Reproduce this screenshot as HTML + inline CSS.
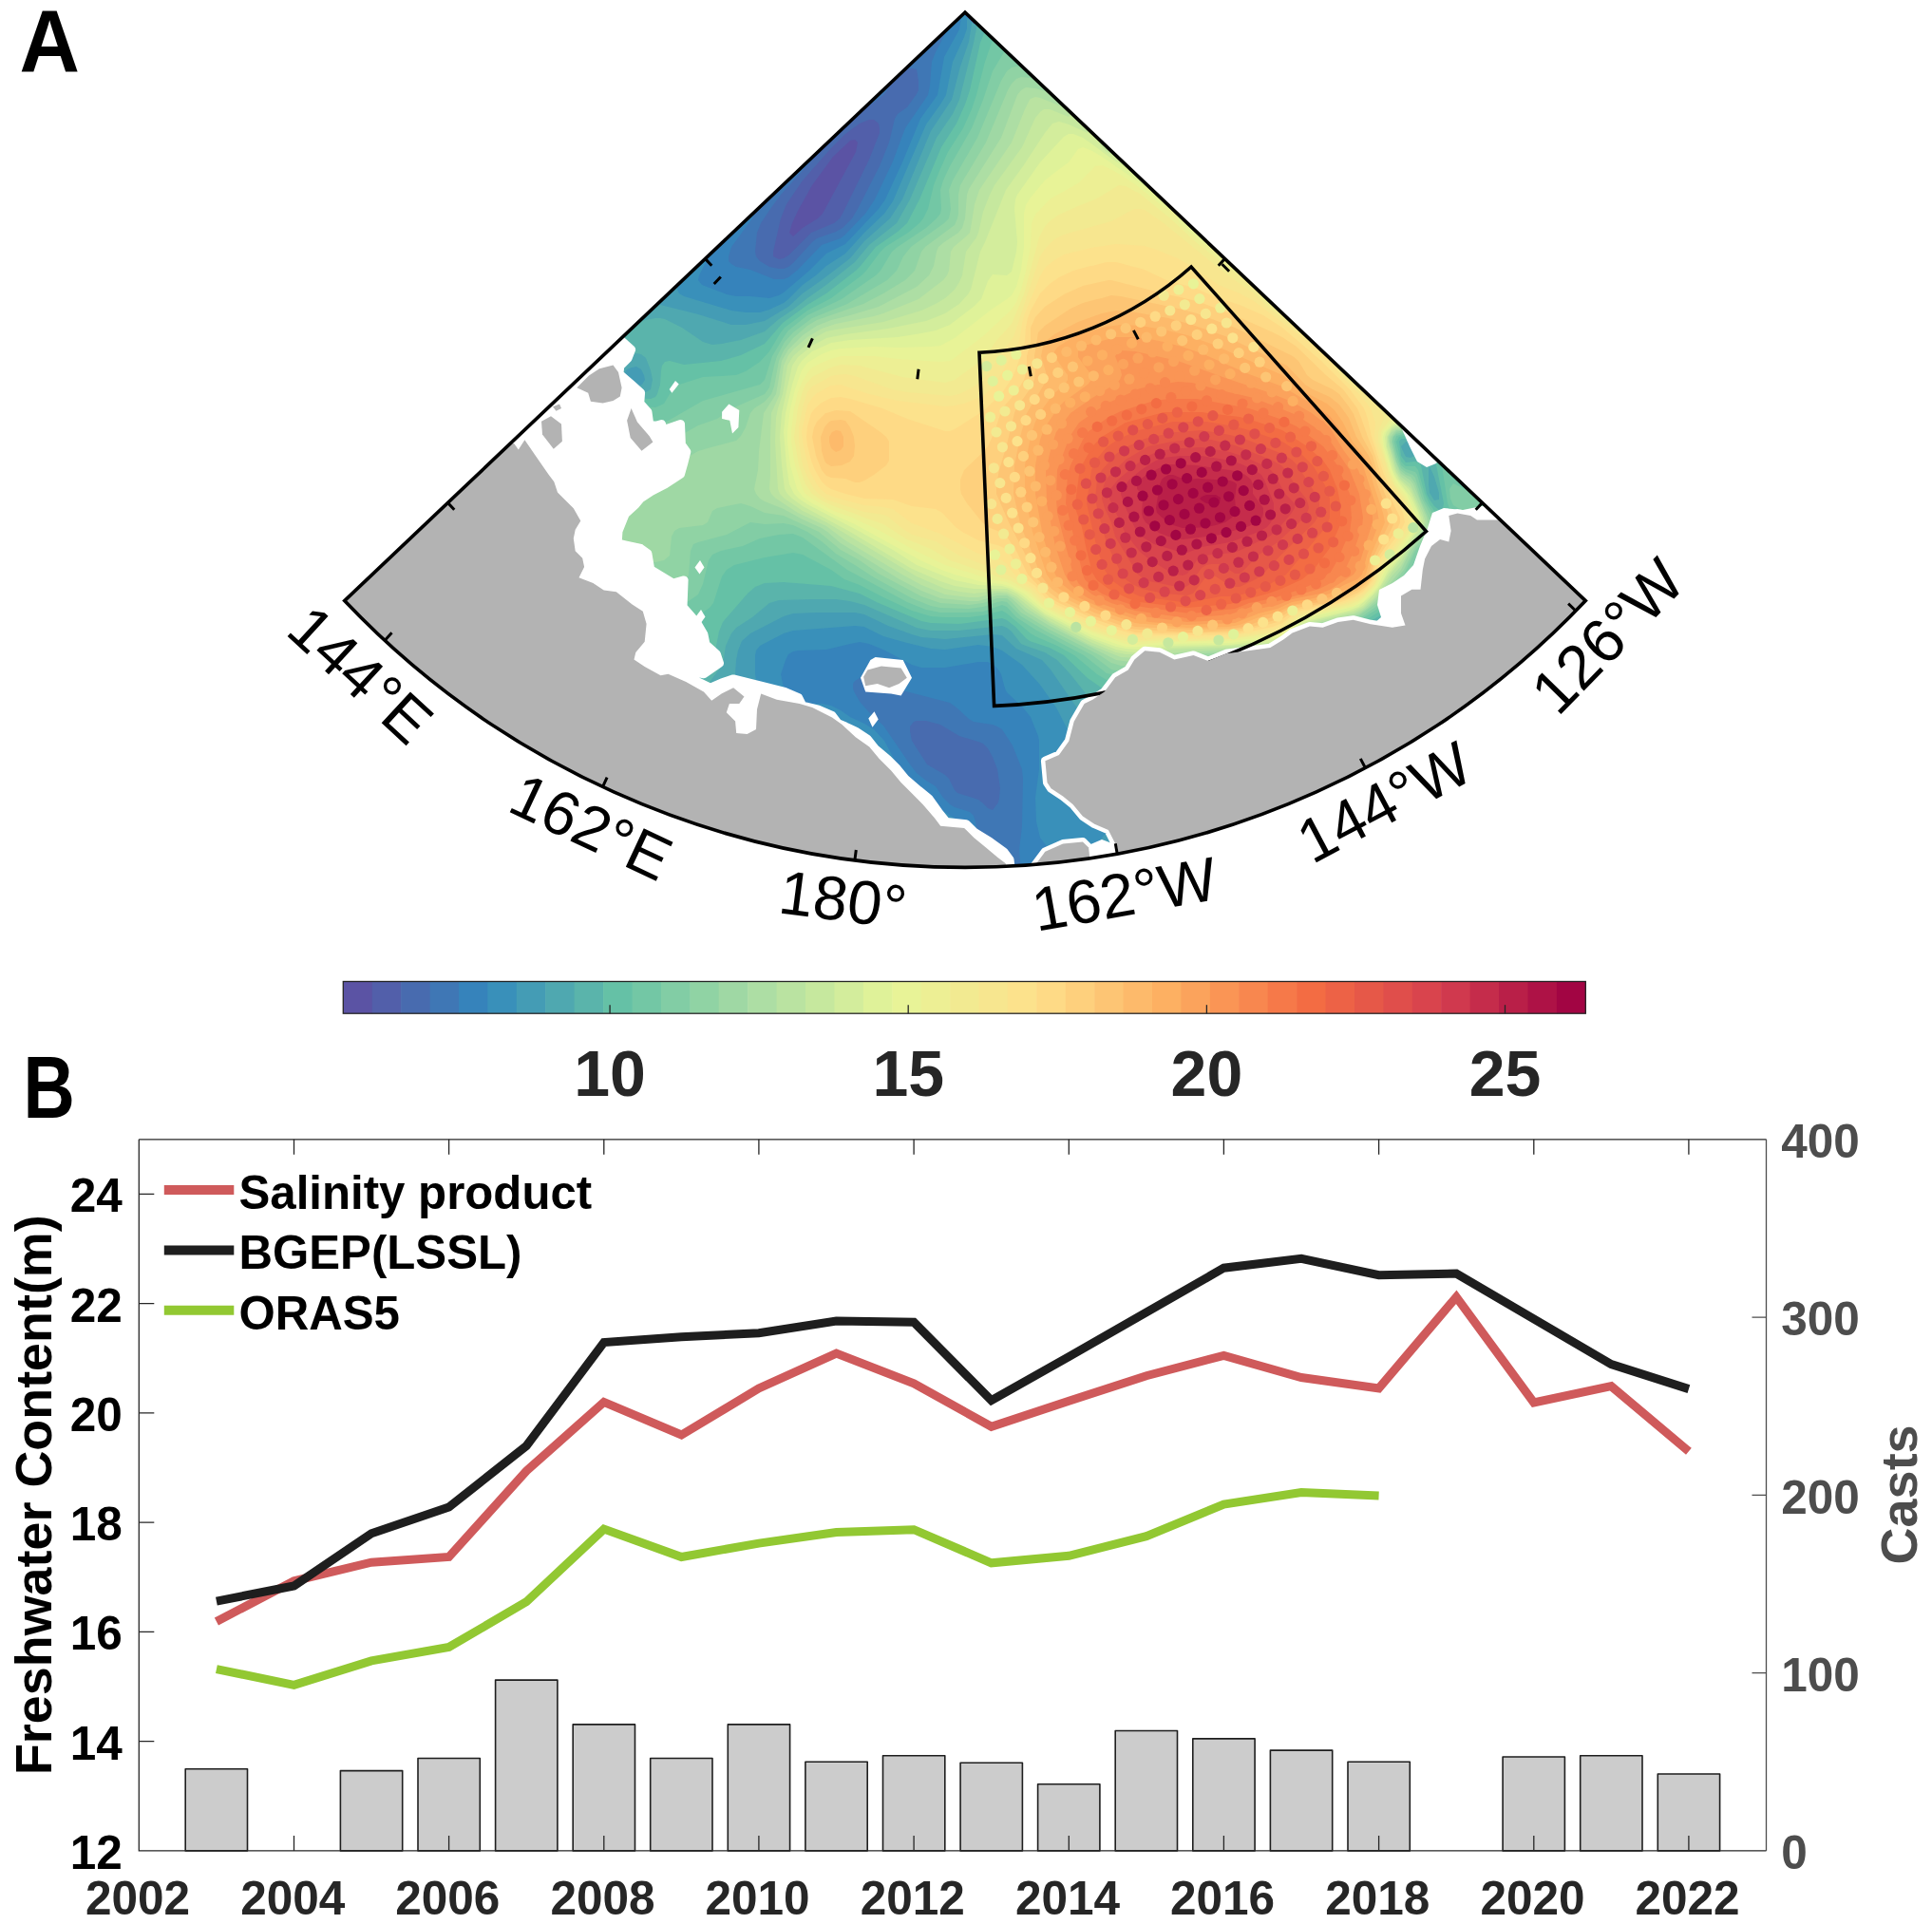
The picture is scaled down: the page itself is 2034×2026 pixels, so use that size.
<!DOCTYPE html>
<html><head><meta charset="utf-8"><title>Figure</title>
<style>
html,body{margin:0;padding:0;background:#fff;}
body{width:2034px;height:2026px;overflow:hidden;}
svg{display:block;}
text{font-family:"Liberation Sans",Arial,Helvetica,sans-serif;}
.lab{font-size:65px;fill:#000;}
.cbl{font-size:68px;font-weight:bold;fill:#262626;}
.tl{font-size:49.5px;font-weight:bold;fill:#262626;}
.tk{font-size:49.5px;font-weight:bold;fill:#000;}
.tr{font-size:49.5px;font-weight:bold;fill:#4d4d4d;}
.yl{font-size:53.9px;font-weight:bold;fill:#000;}
.yr{font-size:54px;font-weight:bold;fill:#4d4d4d;}
.lg{font-size:49.2px;font-weight:bold;fill:#000;}
.pl{font-size:92.5px;font-weight:bold;fill:#000;}
</style></head><body>
<svg xmlns="http://www.w3.org/2000/svg" width="2034" height="2026" viewBox="0 0 2034 2026">
<defs><clipPath id="wedge"><path d="M1016 13 L362.7 632.6 A900.4 900.4 0 0 0 1669.3 632.6 Z"/></clipPath></defs>
<rect width="2034" height="2026" fill="#fff"/>
<g clip-path="url(#wedge)">
<rect x="300" y="0" width="1450" height="960" fill="#5b53a4"/>
<path fill="#525faa" d="M1015 15l10 10 5 0 30 30 5 0 30 30 5 0 30 30 5 0 30 30 5 0 30 30 5 0 25 25 5 0 30 30 5 0 30 30 5 0 30 30 5 0 30 30 5 0 30 30 5 0 25 25 5 0 30 30 5 0 30 30 5 0 30 30 5 0 30 30 5 0 25 25 5 0 30 30 5 0 30 30 5 0 20 20 0 15-90 90-5 0-25 25-5 0-15 15-5 0-10 10-5 0-15 15-5 0-10 10-5 0-5 5-5 0-10 10-5 0-5 5-5 0-10 10-5 0-5 5-5 0-5 5-5 0-5 5-5 0-5 5-5 0-5 5-5 0-5 5-5 0-5 5-10 0-5 5-5 0-5 5-5 0-5 5-10 0-5 5-10 0-5 5-5 0-5 5-10 0-5 5-15 0-5 5-10 0-5 5-15 0-5 5-15 0-5 5-15 0-5 5-20 0-5 5-25 0-5 5-30 0-5 5-70 0-5 5-50 0-5-5-65 0-5-5-35 0-5-5-25 0-5-5-20 0-5-5-15 0-5-5-15 0-5-5-15 0-5-5-10 0-5-5-10 0-5-5-10 0-5-5-10 0-5-5-10 0-5-5-5 0-5-5-10 0-5-5-5 0-5-5-5 0-5-5-5 0-5-5-5 0-5-5-10 0-5-5-5 0-10-10-5 0-5-5-5 0-5-5-5 0-5-5-5 0-10-10-5 0-5-5-5 0-10-10-5 0-10-10-5 0-15-15-5 0-10-10-5 0-20-20-5 0-25-25-5 0-70-70 0-35 5 0 25-25 5 0 30-30 5 0 30-30 5 0 30-30 5 0 30-30 5 0 30-30 5 0 25-25 5 0 30-30 5 0 30-30 5 0 30-30 5 0 30-30 5 0 25-25 5 0 30-30 5 0 30-30 5 0 30-30 5 0 30-30 5 0 30-30 5 0 25-25 5 0 30-30 5 0 20-20zM893 150l-16 15-22 30-15 27-6 13-3 10 4 4 10-9 16-10 5-5 35-65 2-10-3-3-5 1z"/>
<path fill="#486baf" d="M1015 15l10 10 5 0 30 30 5 0 30 30 5 0 30 30 5 0 30 30 5 0 30 30 5 0 25 25 5 0 30 30 5 0 30 30 5 0 30 30 5 0 30 30 5 0 30 30 5 0 25 25 5 0 30 30 5 0 30 30 5 0 30 30 5 0 30 30 5 0 25 25 5 0 30 30 5 0 30 30 5 0 20 20 0 15-90 90-5 0-25 25-5 0-15 15-5 0-10 10-5 0-15 15-5 0-10 10-5 0-5 5-5 0-10 10-5 0-5 5-5 0-10 10-5 0-5 5-5 0-5 5-5 0-5 5-5 0-5 5-5 0-5 5-5 0-5 5-5 0-5 5-10 0-5 5-5 0-5 5-5 0-5 5-10 0-5 5-10 0-5 5-5 0-5 5-10 0-5 5-15 0-5 5-10 0-5 5-15 0-5 5-15 0-5 5-15 0-5 5-20 0-5 5-25 0-5 5-30 0-5 5-70 0-5 5-50 0-5-5-65 0-5-5-35 0-5-5-25 0-5-5-20 0-5-5-15 0-5-5-15 0-5-5-15 0-5-5-10 0-5-5-10 0-5-5-10 0-5-5-10 0-5-5-10 0-5-5-5 0-5-5-10 0-5-5-5 0-5-5-5 0-5-5-5 0-5-5-5 0-5-5-10 0-5-5-5 0-10-10-5 0-5-5-5 0-5-5-5 0-5-5-5 0-10-10-5 0-5-5-5 0-10-10-5 0-10-10-5 0-15-15-5 0-10-10-5 0-20-20-5 0-25-25-5 0-70-70 0-35 5 0 25-25 5 0 30-30 5 0 30-30 5 0 30-30 5 0 30-30 5 0 30-30 5 0 25-25 5 0 30-30 5 0 30-30 5 0 30-30 5 0 30-30 5 0 25-25 5 0 30-30 5 0 6-6 6-4 20-20 3 0 30-30 5 0 13-13 17-10 5-7 30-30 5 0 25-25 5 0 30-30 5 0 20-20zM905 130l-15 11-15 15-30 34-17 25-6 15-8 35 0 5 6 3 5-1 5-3 24-24 24-10 6-5 3-5 28-57 11-28 0-5-1-5-5-4-5 0-10 4z"/>
<path fill="#3f77b5" d="M1015 15l10 10 5 0 30 30 5 0 30 30 5 0 30 30 5 0 30 30 5 0 30 30 5 0 25 25 5 0 30 30 5 0 30 30 5 0 30 30 5 0 30 30 5 0 30 30 5 0 25 25 5 0 30 30 5 0 30 30 5 0 30 30 5 0 30 30 5 0 25 25 5 0 30 30 5 0 30 30 5 0 20 20 0 15-90 90-5 0-25 25-5 0-15 15-5 0-10 10-5 0-15 15-5 0-10 10-5 0-5 5-5 0-10 10-5 0-5 5-5 0-10 10-5 0-5 5-5 0-5 5-5 0-5 5-5 0-5 5-5 0-5 5-5 0-5 5-5 0-5 5-10 0-5 5-5 0-5 5-5 0-5 5-10 0-5 5-10 0-5 5-5 0-5 5-10 0-5 5-15 0-5 5-10 0-5 5-15 0-5 5-15 0-5 5-15 0-5 5-20 0-5 5-25 0-5 5-30 0-5 5-70 0-5 5-50 0-5-5-65 0-5-5-35 0-5-5-25 0-5-5-20 0-5-5-15 0-5-5-15 0-5-5-15 0-5-5-10 0-5-5-10 0-5-5-10 0-5-5-10 0-5-5-10 0-5-5-5 0-5-5-10 0-5-5-5 0-5-5-5 0-5-5-5 0-5-5-5 0-5-5-10 0-5-5-5 0-10-10-5 0-5-5-5 0-5-5-5 0-5-5-5 0-10-10-5 0-5-5-5 0-10-10-5 0-10-10-5 0-15-15-5 0-10-10-5 0-20-20-5 0-25-25-5 0-70-70 0-35 5 0 25-25 5 0 30-30 5 0 30-30 5 0 30-30 5 0 30-30 5 0 30-30 5 0 25-25 5 0 30-30 5 0 30-30 5 0 30-30 5 0 30-30 5 0 25-25 5 0 29-29 6 1 9-2 8-5 53-52 5-3 3 0 0 5-41 45-11 15-10 15-4 10-2 20 1 5 4 5 10 6 10 2 5 0 5-2 5-4 20-22 5-4 20-7 7-4 10-10 6-10 23-45 10-25 6-25 3-5 10-7 10-14 2-4 0-10-2-12-5-1-5 1-6-2 1-1 5 0 30-30 5 0 20-20zM962 760l-4 5 0 5 2 10 16 25 19 11 4 4 6 12 3 3 22 7 5 4 5 5 5 2 6-8 1-5 1-10-3-20-5-13-5-9-5-5-5-2-20-6-20-12-15-4-10 0zM935 88l1 2-2 5-4 5-13 10-7 3-2-3 1-4 11-11 5 0 9-9z"/>
<path fill="#3683bb" d="M1015 15l10 10 5 0 30 30 5 0 30 30 5 0 30 30 5 0 30 30 5 0 30 30 5 0 25 25 5 0 30 30 5 0 30 30 5 0 30 30 5 0 30 30 5 0 30 30 5 0 25 25 5 0 30 30 5 0 30 30 5 0 30 30 5 0 30 30 5 0 25 25 5 0 30 30 5 0 30 30 5 0 20 20 0 15-90 90-5 0-25 25-5 0-15 15-5 0-10 10-5 0-15 15-5 0-10 10-5 0-5 5-5 0-10 10-5 0-5 5-5 0-10 10-5 0-5 5-5 0-5 5-5 0-5 5-5 0-5 5-5 0-5 5-5 0-5 5-5 0-5 5-10 0-5 5-5 0-5 5-5 0-5 5-10 0-5 5-10 0-5 5-5 0-5 5-10 0-5 5-15 0-5 5-10 0-5 5-15 0-5 5-15 0-5 5-15 0-5 5-20 0-5 5-25 0-5 5-30 0-5 5-40 0-2-25 3-25 1-50-1-10-10-25-11-17-5-3-5-2-20-3-5-3-13-12-7-5-50-13-30-15-5-1-10 3-5 3-2 3 0 5 2 5 6 10 9 10 15 14 28 41 7 9 10 8 10 6 8 12 7 7 5 3 16 5 4 4 2 6 3 20-2 5-12 10-3 5 2 7 0 13-25 0-5-5-65 0-5-5-35 0-5-5-25 0-5-5-20 0-5-5-15 0-5-5-15 0-5-5-15 0-5-5-10 0-5-5-10 0-5-5-10 0-5-5-10 0-5-5-10 0-5-5-5 0-5-5-10 0-5-5-5 0-5-5-5 0-5-5-5 0-5-5-5 0-5-5-10 0-5-5-5 0-10-10-5 0-5-5-5 0-5-5-5 0-5-5-5 0-10-10-5 0-5-5-5 0-10-10-5 0-10-10-5 0-15-15-5 0-10-10-5 0-20-20-5 0-25-25-5 0-70-70 0-35 5 0 25-25 5 0 30-30 5 0 30-30 5 0 30-30 5 0 30-30 5 0 30-30 5 0 25-25 5 0 30-30 5 0 30-30 5 0 30-30 5 0 30-30 5 0 25-25 5 0 5-5 5-2 15-12 15-4 4 3-2 5-22 30-3 10 0 5 3 3 5 3 15 3 25 10 10 0 5-2 10-8 25-26 20-7 5-4 21-22 10-15 19-40 13-35 24-35 2-10 2-25 4-10 11-21 14-14z"/>
<path fill="#3990ba" d="M1015 15l10 10 5 0 30 30 5 0 30 30 5 0 30 30 5 0 30 30 5 0 30 30 5 0 25 25 5 0 30 30 5 0 30 30 5 0 30 30 5 0 30 30 5 0 30 30 5 0 25 25 5 0 30 30 5 0 30 30 5 0 30 30 5 0 30 30 5 0 25 25 5 0 30 30 5 0 30 30 5 0 20 20 0 15-85 85-5 5-5 0-25 25-5 0-15 15-5 0-10 10-5 0-15 15-5 0-10 10-5 0-5 5-5 0-10 10-5 0-5 5-5 0-10 10-5 0-5 5-5 0-5 5-5 0-5 5-5 0-5 5-5 0-5 5-5 0-5 5-5 0-5 5-10 0-5 5-5 0-5 5-5 0-5 5-10 0-5 5-10 0-5 5-5 0-5 5-10 0-5 5-15 0-5 5-10 0-5 5-15 0-5 5-15 0-5 5-15 0-5 5-20 0-5 5-25 0-5 5-30 0-5 5-8 0 0-20-2-5-10-13-4-17-1-25 4-30 0-30-1-5-8-20-8-10-17-16-2-4-4-15-3-5-5-5-6-3-10 0-35 6-25 0-10-3-28-15-17-7-10-2-10 2-25 6-30 1-5 1-5 3-3 6-5 15 2 10 6 17 4 3 6 1 25 0 10 2 10 5 10 7 15 7 10 6 11 12 16 30 8 12 10 10 22 18 23 15 3 5 0 5-3 2-5 2-45-12-5 3 6 10-1 5-13 15-6 10-9 10-12 0-5-5-35 0-5-5-25 0-5-5-20 0-5-5-15 0-5-5-15 0-5-5-15 0-5-5-10 0-5-5-10 0-5-5-10 0-5-5-10 0-5-5-10 0-5-5-5 0-5-5-10 0-5-5-5 0-5-5-5 0-5-5-5 0-5-5-5 0-5-5-10 0-5-5-5 0-10-10-5 0-5-5-5 0-5-5-5 0-5-5-5 0-10-10-5 0-5-5-5 0-10-10-5 0-10-10-5 0-15-15-5 0-10-10-5 0-20-20-5 0-25-25-5 0-70-70 0-35 5 0 25-25 5 0 30-30 5 0 30-30 5 0 30-30 5 0 30-30 5 0 30-30 5 0 25-25 5 0 30-30 5 0 30-30 5 0 30-30 5 0 30-30 4 0 6 3 5 1 5-2 10-7 3 0-2 5-10 20-1 5 4 5 26 10 10 2 15 0 20 2 10-3 5-3 27-23 18-18 20-10 35-37 7-10 18-39 19-46 18-25 7-40 16-29 2-13z"/>
<path fill="#449cb5" d="M1019 19l6 6 5 0 30 30 5 0 30 30 5 0 30 30 5 0 30 30 5 0 30 30 5 0 25 25 5 0 30 30 5 0 30 30 5 0 30 30 5 0 30 30 5 0 30 30 5 0 25 25 5 0 30 30 5 0 30 30 5 0 30 30 5 0 30 30 5 0 25 25 5 0 30 30 5 0 30 30 5 0 20 20 0 15-90 90-5 0-25 25-5 0-15 15-5 0-10 10-5 0-15 15-5 0-10 10-5 0-5 5-5 0-10 10-5 0-5 5-5 0-10 10-5 0-5 5-5 0-5 5-5 0-5 5-5 0-5 5-5 0-5 5-5 0-5 5-5 0-5 5-10 0-5 5-5 0-5 5-5 0-5 5-10 0-5 5-10 0-5 5-5 0-5 5-10 0-5 5-15 0-5 5-10 0-5 5-15 0-5 5-15 0-5 5-15 0-5 5-20 0-2 2-4-2-19-15-2-5 8-10-2-5-19-7-19-18-6-8-2-7 2-10 11-25 1-5-2-10-18-35-17-24-19-21-21-15-10-4-15-2-35 5-15-1-25-6-25-7-20-10-10-1-65 5-10 3-25 13-4 5-1 5 0 20 6 35 4 11 5 3 5 1 35-5 10 0 6 5 14 24 5 4 5 2-5 3-5 0-30-8-5 2-1 3 3 5 38 30 8 10-1 5-4 5-60 60-3 0-5-5-15 0-5-5-15 0-5-5-15 0-5-5-10 0-5-5-10 0-5-5-10 0-5-5-10 0-5-5-10 0-5-5-5 0-5-5-10 0-5-5-5 0-5-5-5 0-5-5-5 0-5-5-5 0-5-5-10 0-5-5-5 0-10-10-5 0-5-5-5 0-5-5-5 0-5-5-5 0-10-10-5 0-5-5-5 0-10-10-5 0-10-10-5 0-15-15-5 0-10-10-5 0-20-20-5 0-25-25-5 0-70-70 0-35 5 0 25-25 5 0 30-30 5 0 30-30 5 0 30-30 5 0 30-30 5 0 30-30 5 0 25-25 5 0 30-30 5 0 30-30 5 0 30-30 5 0 3-3 7 4 5 1 10-6 3 4 0 5 2 4 5 3 50 15 15 2 15 0 10-3 15-7 5-4 15-15 14-10 11-10 20-13 20-22 21-20 9-13 35-81 15-21 6-10 7-35 12-26 3-9 0-10z"/>
<path fill="#4fa8b0" d="M1023 23l2 2 5 0 30 30 5 0 30 30 5 0 30 30 5 0 30 30 5 0 30 30 5 0 25 25 5 0 30 30 5 0 30 30 5 0 30 30 5 0 30 30 5 0 30 30 5 0 25 25 5 0 30 30 5 0 30 30 5 0 30 30 5 0 30 30 5 0 25 25 5 0 30 30 5 0 30 30 5 0 20 20 0 15-90 90-5 0-25 25-5 0-15 15-5 0-10 10-5 0-15 15-5 0-10 10-5 0-5 5-5 0-10 10-5 0-5 5-5 0-10 10-5 0-5 5-5 0-5 5-5 0-5 5-5 0-5 5-5 0-5 5-5 0-5 5-5 0-5 5-10 0-5 5-5 0-5 5-5 0-5 5-10 0-5 5-10 0-5 5-5 0-5 5-10 0-5 5-15 0-5 5-10 0-5 5-13 0-9-10-21-30 1-10-2-5-6-1-25 1-5 0-5-3-3-7-6-25-4-10-37-50-24-35-9-10-27-12-15-14-10-1-50 5-25-2-10-3-25-9-25-12-10-2-40 0-25 1-10 3-35 18-9 8-4 10-2 10-1 15 2 20-2 5-19 12-10 8-13 20-9 10-51 70-7 0-5-5-5 0-5-5-5 0-5-5-5 0-5-5-5 0-5-5-10 0-5-5-5 0-10-10-5 0-5-5-5 0-5-5-5 0-5-5-5 0-10-10-5 0-5-5-5 0-10-10-5 0-10-10-5 0-15-15-5 0-10-10-5 0-20-20-5 0-25-25-5 0-70-70 0-35 5 0 25-25 5 0 30-30 5 0 30-30 5 0 30-30 5 0 30-30 5 0 30-30 5 0 25-25 5 0 30-30 5 0 30-30 5 0 30-30 3 0 7 5 4 5 1 11 40 10 35 11 15 0 20-4 25-15 15-14 20-14 30-23 15-18 27-24 13-20 30-72 22-33 9-35 9-26 3-19zM659 390l-2 5 1 5 2 3 3 2 7 2 6-2 3-5-1-5-3-6-5-3-5 1-5 2zM1488 675l-4 5-1 5 2 6 5 2 10 1 5-1 3-3-2-5-6-8-5-4-5 0z"/>
<path fill="#5ab4ab" d="M1030 25l30 30 5 0 30 30 5 0 30 30 5 0 30 30 5 0 30 30 5 0 25 25 5 0 30 30 5 0 30 30 5 0 30 30 5 0 30 30 5 0 30 30 5 0 25 25 5 0 30 30 5 0 30 30 5 0 4 4-3 1-11 12-2 3 2 5 25 17 5 0 5-2 11-9 29 29 5 0 25 25 5 0 30 30 5 0 30 30 5 0 20 20 0 15-90 90-5 0-25 25-5 0-15 15-5 0-10 10-5 0-15 15-5 0-10 10-5 0-5 5-5 0-10 10-5 0-5 5-5 0-10 10-5 0-5 5-5 0-5 5-5 0-5 5-5 0-5 5-5 0-5 5-5 0-5 5-5 0-5 5-10 0-5 5-5 0-5 5-5 0-5 5-10 0-5 5-10 0-5 5-5 0-5 5-10 0-5 5-15 0-5 5-10 0-5 5-7 0-12-15-12-20-2-5 0-5 3-7 5-5 31-18 13-10-4-5-55 8-10 0-4-3-5-15-11-14-8-6-12-4-10-8-38-48-14-15-13-8-20-7-5-2-10-13-5-4-5-2-45 5-30 0-15-3-55-24-15-4-15-2-25 0-35 1-10 3-18 15-17 11-5 6-6 13-3 20-11 14-5 9-5 15-3 17-7 14-65 86-5-5-5 0-5-5-5 0-5-5-5 0-5-5-5 0-5-5-10 0-5-5-5 0-10-10-5 0-5-5-5 0-5-5-5 0-5-5-5 0-10-10-5 0-5-5-5 0-10-10-5 0-10-10-5 0-15-15-5 0-10-10-5 0-20-20-5 0-25-25-5 0-70-70 0-35 5 0 25-25 5 0 30-30 5 0 30-30 5 0 30-30 5 0 30-30 5 0 30-30 5 0 25-25 5 0 30-30 5 0 30-30 5 0 28-28 4 3 4 5-1 5-15 20 5 3 15-3 5 0 5 1 18 9 22 15 10 3 10-1 20-4 25-9 15-13 15-10 15-12 20-14 30-24 15-18 29-23 14-25 28-65 17-25 7-15 15-60 4-20zM657 375l-7 2-4 3-3 5 1 5 5 15 6 5 5 1 10 2 10 0 5-3 2-10-2-10-5-13-5-4-5-1-10 2zM1480 465l-5 5 2 5 3 6 5 1 10-5 2-2-2-5-5-3-10-2zM1504 495l0 15 1 9 5 8 5-1 0-7-5-17-5-11zM1469 645l-17 10-5 5 8 13 5 5 5-3 3-5 8-15 1-5-1-5-6 0zM1485 670l-7 10-1 5 1 5 4 5 8 4 20 1 5-1 2-4-4-10-4-5-9-11-5-4-5 1z"/>
<path fill="#65c1a6" d="M1037 32l23 23 5 0 30 30 5 0 30 30 5 0 30 30 5 0 30 30 5 0 25 25 5 0 30 30 5 0 30 30 5 0 30 30 5 0 30 30 5 0 30 30 5 0 25 25 5 0 30 30 5 0 30 30 5 0 2 2-15 13-7 10-5 2-10 0-2 3 2 15 5 7 10-1 5 2 1 2 6 30 3 6 5 7 5 4 4-2 1-5-10-51 5-1 10 4 5-1 20-11 25 25 5 0 25 25 5 0 30 30 5 0 30 30 5 0 20 20 0 15-90 90-5 0-25 25-5 0-15 15-5 0-10 10-5 0-15 15-5 0-10 10-5 0-5 5-5 0-10 10-5 0-5 5-5 0-10 10-5 0-5 5-5 0-5 5-5 0-5 5-5 0-5 5-5 0-5 5-5 0-5 5-5 0-5 5-10 0-5 5-5 0-5 5-5 0-5 5-10 0-5 5-10 0-5 5-5 0-5 5-10 0-5 5-15 0-5 5-10 0-4 4-11-14-12-20-2-5 1-5 3-5 35-18 26-17 34-18 15-12 31-20-1-2-15 2-20 7-30 8-60 12-10 1-5-1-5-3-33-39-7-7-9-3-21-1-5-1-20-14-25-24-15-8-21-7-4-3-11-12-9-7-5-2-45 6-30-1-10-2-45-19-20-10-30-8-50-4-20 1-10 4-8 7-26 30-4 10-5 25-3 5-17 10-1 5 3 10 0 5-3 10-2 15-4 12-5 8-9 10-6 10-9 10-36 50-5 0-5-5-5 0-5-5-5 0-5-5-5 0-5-5-10 0-5-5-5 0-10-10-5 0-5-5-5 0-5-5-5 0-5-5-5 0-10-10-5 0-5-5-5 0-10-10-5 0-10-10-5 0-15-15-5 0-10-10-5 0-20-20-5 0-25-25-5 0-70-70 0-35 5 0 25-25 5 0 30-30 5 0 30-30 5 0 30-30 5 0 30-30 5 0 30-30 5 0 25-25 5 0 4-4 46 11 5 3 6 10 7 5 17 4 20 1 5-2 2-3 3-10 1-15 1-5 3-4 5-1 15 4 39-4 21-6 25-12 19-22 26-19 20-12 31-24 5-5 16-20 23-16 10-9 13-25 23-55 16-25 9-20 5-15 11-50 4-10zM1471 635l-16 12-14 8-6 5-3 5 8 5 6 5 4 22 5 6 5-2 5-6 5-2 10 10 10 3 25 3 5 0 6-4 2-5-1-5-8-15-14-16-5-4-10-3-2-2 3-15-1-5-5-3-10 1z"/>
<path fill="#73c7a5" d="M1045 44l2-2 13 13 5 0 30 30 5 0 30 30 5 0 30 30 5 0 30 30 5 0 25 25 5 0 30 30 5 0 30 30 5 0 30 30 5 0 30 30 5 0 30 30 5 0 25 25 5 0 30 30 5 0 30 30 5 0-25 23-12 2-3 5 5 21 5 5 10 0 3 4 7 25 5 11 5 7 13 12 4 10 0 5-2 10-3 5-7 4-10 2-5 4-10 20-35 32-25 16-20 7-3 5 3 10 0 5-5 4-20 12-35 31-10 4-65 12-5 0-5-3-18-20-6-5-16-2-50-1-10-1-10-6-24-20-18-10-23-10-5-3-25-21-5-3-20 5-15 2-25 0-15-1-20-6-30-14-25-13-16-6-14-10-30-16-10-2-30 5-32 8-8 5-5 7-9 28-4 5-21 15-3 5 3 5 11 10 2 5-2 5-2 1-5 0-15-9-5-1-5 1-12 8-73 37-20 11-24 17-21 18-24 17-1 0-10-10-5 0-10-10-5 0-15-15-5 0-10-10-5 0-20-20-5 0-25-25-5 0-70-70 0-35 5 0 25-25 5 0 30-30 5 0 30-30 5 0 30-30 5 0 30-30 5 0 30-30 5 0 22-22 13 2 10 3 10 2 10 3 9 2 11 14 5 3 35 6 15 1 5-2 4-2 9-15 7-5 25-8 35-2 10-4 15-10 10-11 12-20 4-5 24-18 25-13 32-24 5-5 15-20 5-5 24-15 12-10 4-5 5-10 6-25 6-15 9-20 16-25 9-20 5-15 9-35 7-20zM1550 474l3-1 22 22 5 0 25 25 5 0 30 30 5 0 30 30 5 0 20 20 0 15-58 58-77-78-10-8-5-1-5 2-10 11-5 1 6-15 0-10-3-10-3-19-6-16-6-40 2-4 15-3 14-8z"/>
<path fill="#82cda5" d="M1057 52l3 3 5 0 30 30 5 0 30 30 5 0 30 30 5 0 30 30 5 0 25 25 5 0 30 30 5 0 30 30 5 0 30 30 5 0 30 30 5 0 30 30 5 0 25 25 5 0 30 30 5 0 30 30 3 0-13 13-10 7-15 4-2 6 2 10 5 15 5 4 10 3 2 3 8 27 17 28 0 10-3 5-14 6-5 4-5 8-7 17-21 25-10 10-22 14-22 6-10 5-8 9-5 3-13 8-17 12-10 4-45 9-10-1-13-4-22-1-20 4-25 3-35 0-10-2-24-19-51-27-20-13-10-11-5-2-20 7-20 1-25 0-15-3-20-8-63-34-47-34-10-4-15 1-20 4-18 8-23 5-9 4-4 6-6 25-5 11-10 7-15 7-20 5-10 0-5 2-90 88-30 26-28 21-7-7-5 0-10-10-5 0-15-15-5 0-10-10-5 0-20-20-5 0-25-25-5 0-70-70 0-35 5 0 25-25 5 0 30-30 5 0 30-30 5 0 12-12 38-1 30-7 106-35 14-7 35 4 10 0 10-2 40-23 60-17 5-5 8-25 12-20 5-7 20-16 36-17 36-25 5-5 12-20 6-5 30-20 11-10 4-5 1-5-1-20 3-10 7-15 23-40 12-30 10-30 12-20zM1555 479l3-1 17 17 5 0 25 25 5 0 30 30 5 0 30 30 5 0 20 20 0 15-51 51-93-91-2-10-7-10-2-5-1-10-14-8-3-7-1-10 4-6 20 10 4-4-2-5-7-8-10 0-5-1-5-6 1-5 19-6 7-4z"/>
<path fill="#90d3a4" d="M1070 70l11 1 14 14 5 0 30 30 5 0 30 30 5 0 30 30 5 0 25 25 5 0 30 30 5 0 30 30 5 0 30 30 5 0 30 30 5 0 30 30 5 0 25 25 5 0 30 30 5 0 30 30 1 0-11 11-10 7-15 4-3 3-1 5 4 16 5 12 5 4 7 3 3 3 7 22 13 25 1 5-1 5-15 14-5 6-12 25-20 25-11 10-17 12-32 8-43 28-10 3-90 5-25 7-15 2-20 2-20-1-5-1-20-15-50-26-25-15-15-15-5-1-5 1-15 5-15 2-30-1-10-2-20-8-40-22-20-13-20-12-15-13-15-10-15-7-10-2-20 1-15-2-25 13-30 8-5 2-3 7-2 25-2 5-3 4-5 3-20 2-20 6-4 5-4 10-3 5-80 80-34 31-10 7-15 12-4 1-1-1-5 0-10-10-5 0-15-15-5 0-10-10-5 0-20-20-5 0-25-25-5 0-70-70 0-35 5 0 25-25 5 0 30-30 5 0 30-30 5 0 7-7 43 0 25-5 25-6 66-22 14-3 5 3 5 14 5 1 10-7 45-4 10-4 30-17 20-7 16-11 34-15 5-7 5-23 3-10 8-15 9-10 20-15 37-15 42-25 10-10 7-15 8-10 35-25 5-5 2-10-2-20 4-10 26-45 25-60 6-10 5-4 5-1z"/>
<path fill="#9fd8a4" d="M1088 78l7 7 5 0 30 30 5 0 30 30 5 0 30 30 5 0 25 25 5 0 30 30 5 0 30 30 5 0 30 30 5 0 30 30 5 0 30 30 5 0 25 25 5 0 30 30 5 0 30 30-10 9-10 7-15 4-4 5-1 5 5 21 4 9 6 5 5 2 5 7 5 16 11 25 0 5-2 5-14 16-12 24-20 25-9 10-19 14-39 11-10 5-26 18-10 4-95 5-30 7-20 3-20-1-10-3-12-8-53-27-25-15-5-3-10-11-5-4-10 0-15 5-15 2-30-2-20-7-45-24-20-14-20-11-23-19-37-17-20-3-15-7-10-3-25 5-5 3-5 12-5 3-25 3-5 3-3 6-2 20-6 5-9 2-10-1-20-10-5-1-30 10-10 2-95 28-10 2-95 28-10 2-25 8-5 0-35-35 0-35 5 0 25-25 5 0 30-30 5 0 27-27 13-3 45-1 30-3 10 0 15 3 20 1 15 4 20 1 10 3 15 2 5 2 10 7 5-2 25-12 60-35 10-3 30-8 5-5 5-9 5-15 4-5 11-7 7-8 3-8 5-27 5-11 10-13 15-13 10-6 49-17 21-11 23-14 10-10 7-20 4-5 31-23 3-7 1-5 0-20 2-10 27-45 23-55 4-7 5-5 5-2 10 1 2-2z"/>
<path fill="#addea4" d="M1100 85l30 30 5 0 30 30 5 0 30 30 5 0 25 25 5 0 30 30 5 0 30 30 5 0 30 30 5 0 30 30 5 0 30 30 5 0 25 25 5 0 30 30 5 0 29 29-14 13-10 5-10 1-2 2-4 5-1 5 6 20 4 10 2 4 10 7 3 4 14 35 1 5 0 5-18 25-10 20-24 30-11 10-10 7-5 2-27 6-14 5-9 5-20 15-10 4-100 5-35 7-20 1-15-2-70-36-25-15-15-14-5-3-10 0-20 6-10 0-30-3-20-8-23-12-42-26-20-12-14-12-6-4-20-9-20-11-20-8-5-3-4-5-2-5 4-20 1-20 5-40 13-20 6-35 7-12 15-15 15-10 15-6 20-5 30-9 40-21 13-12 5-10 3-15 2-5 6-5 15-10 4-5 3-10 2-25 2-6 34-54 17-45 4-5 5-3 10 1 10 3 4-1-6-10z"/>
<path fill="#bae3a1" d="M1085 104l5-2 5 1 25 10 3-3 0-2 7 7 5 0 30 30 5 0 30 30 5 0 25 25 5 0 30 30 5 0 30 30 5 0 30 30 5 0 30 30 5 0 30 30 5 0 25 25 5 0 30 30 5 0 28 28-13 12-10 5-10 2-5 3-3 5 1 10 7 23 5 9 10 8 13 30 3 10-4 10-12 17-10 19-10 11-12 18-8 8-10 9-10 5-34 8-14 5-22 17-10 4-105 6-40 6-20-1-35-14-40-22-25-16-11-10-9-5-10-1-20 5-10 0-25-3-25-10-20-11-60-36-20-15-30-14-23-15-5-5-2-5 1-15 0-40 1-25 9-20 4-30 5-11 5-6 15-13 15-9 15-5 40-8 10-3 37-15 26-20 4-5 2-5 2-20 3-5 12-10 5-5 1-5 4-25 5-15 34-50 14-35 5-10z"/>
<path fill="#c6e89e" d="M1100 115l5 0 20 8 3-3 0-7 2 2 5 0 30 30 5 0 30 30 5 0 25 25 5 0 30 30 5 0 30 30 5 0 30 30 5 0 30 30 5 0 30 30 5 0 25 25 5 0 30 30 5 0 27 27-7 8-10 7-15 3-5 3-4 7 0 5 9 32 5 8 10 9 13 31 1 5-1 5-3 5-11 15-9 16-10 12-11 17-8 10-11 10-10 5-45 11-7 4-13 11-10 6-5 1-50 4-60 2-35 5-15 0-10-2-25-10-45-23-20-14-15-12-10-5-10-1-25 3-15-2-15-3-30-13-95-57-25-12-19-13-5-5-2-5-3-50 1-25 2-10 5-15 5-30 6-10 20-18 15-8 10-2 50-8 40-12 15-7 10-6 10-9 5-8 3-7 4-25 11-15 2-5 5-22 7-18 5-10 29-40 14-31 5-6 4-3z"/>
<path fill="#d3ed9c" d="M1135 115l30 30 5 0 30 30 5 0 25 25 5 0 30 30 5 0 30 30 5 0 30 30 5 0 30 30 5 0 30 30 5 0 25 25 5 0 30 30 5 0 27 27-9 8-8 5-15 3-5 3-5 9 0 10 8 25 5 10 10 10 3 5 10 25 1 5-2 5-22 35-12 15-9 15-17 18-10 5-48 12-7 4-15 13-10 4-50 4-65 2-35 5-10-1-10-2-30-12-45-24-30-23-10-5-10 0-25 0-20-3-15-5-30-13-65-39-50-27-11-8-5-5-3-5-3-25-2-30 2-25 11-50 6-9 15-12 15-8 20-4 45-6 40-8 20-8 15-10 9-10 3-5 10-40 5-10 22-55 18-25 23-35 8-10 7-2 10 3 20 9 0-5-10-13-3-7zM1157 150l3 5 5 5 10 5 1-5-6-10-5-3-5 0z"/>
<path fill="#dff299" d="M1138 118l24 24-7-4-16-18zM1120 144l5-3 5 0 10 4 10 7 20 15 15 9 2-1-9-20-8-10 30 30 5 0 25 25 5 0 30 30 5 0 30 30 5 0 30 30 5 0 30 30 5 0 30 30 5 0 25 25 5 0 30 30 5 0 26 26-10 9-6 4-15 2-5 3-5 6-2 5 1 10 7 25 5 10 14 18 8 17 2 10-5 10-19 30-9 10-8 15-9 11-15 13-10 4-45 11-5 2-15 13-10 4-50 6-65 1-30 4-15-1-10-2-25-9-40-21-10-5-25-20-10-6-10-3-25-1-25-5-40-16-25-16-40-22-50-26-9-6-5-5-5-10-3-20-3-35 2-20 7-30 6-19 4-6 11-10 20-9 20-3 50-3 25-4 15-3 15-6 25-19 8-8 7-19 5-7 15 1 5-4 5-21 1-10-3-35 1-10 2-5 24-34 24-26z"/>
<path fill="#e8f397" d="M1140 155l10 4 10 6 45 31 5 0 0-1-21-25-6-12 17 17 5 0 25 25 5 0 30 30 5 0 30 30 5 0 30 30 5 0 30 30 5 0 30 30 5 0 25 25 5 0 30 30 5 0 25 25-10 9-5 3-15 3-5 2-7 8-2 5 1 10 10 30 6 10 8 10 11 25 1 5-5 10-18 27-10 11-10 20-15 16-10 5-50 12-7 4-13 12-10 4-50 6-65 1-30 3-15 0-10-3-25-9-45-23-10-7-17-14-13-7-10-3-20-2-30-8-14-5-22-10-69-38-20-9-25-13-10-7-6-8-7-25-3-25 0-10 3-25 5-20 7-20 6-8 15-9 10-4 10-2 35-2 25 1 35-1 10-1 15-8 40-31 15-10 5-4 5-9 5-18 3-24 0-35 2-9 5-8 15-18 10-8 15-11 10-14 5-2zM1246 230l1 5 3 3 10 8 5 3 1-4-7-10-4-4-5-2z"/>
<path fill="#edef94" d="M1189 164l11 11 5 0 25 25 5 0 30 30 5 0 30 30 5 0 30 30 5 0 30 30 5 0 30 30 5 0 25 25 5 0 30 30 5 0 23 23-6 7-7 5-15 2-5 2-9 11-1 5 1 10 7 25 7 14 10 13 5 10 6 13 0 5-5 10-16 23-10 12-10 20-8 10-12 10-5 3-55 13-15 13-10 5-50 6-70 1-30 3-10-1-35-12-40-20-11-6-19-17-20-10-17-3-48-15-35-17-35-20-30-14-15-5-10-5-15-9-7-5-3-5-8-25-4-25 0-10 3-25 4-17 5-12 7-11 3-3 10-5 10-4 10-3 35 0 25 3 45 3 10-1 5-3 30-23 30-28 5-8 5-13 5-20 5-25 1-25 4-9 15-16 30-17 18-18 7-1 13 6 22 14 30 24 5 3 5 0-10-16-35-40zM1237 225l5 10 5 5 18 15 15 10 2-5-3-5-19-24-5-4-5-2-10-1z"/>
<path fill="#f2ea91" d="M1205 175l25 25 5 0 30 30 5 0 30 30 5 0 30 30 5 0 30 30 5 0 30 30 5 0 25 25 5 0 30 30 5 0 21 21-3 4-8 6-15 1-5 3-8 10-3 5-1 10 9 30 6 15 11 15 6 12 3 8 1 5-5 10-15 20-12 15-9 20-13 14-5 4-10 4-50 12-5 3-10 9-10 5-50 7-40 2-30-1-30 2-15-2-30-10-45-23-9-6-11-11-20-12-65-22-20-12-25-10-25-16-20-7-15-6-15-5-15-7-10-7-7-10-7-20-5-30 4-30 5-18 3-7 7-8 20-10 10-3 20 1 45 12 45 6 10-3 25-18 10-10 8-12 17-19 13-31 16-60 5-10 6-7 10-7 20-9 20-8 23-14 7 1 15 8 32 26 28 26 40 31 10 6 2-3-4-5-13-15-9-15-12-15-14-15-5-3-10-2-5-4-12-16-24-25zM1328 305l-1 5 3 5 5 5 15 11 5 0-15-22-5-4-5-1zM1417 390l3 4 0-5z"/>
<path fill="#f7e68f" d="M1195 220l5 0 5 1 20 14 65 53 30 21 15 15 30 22 5-1-3-5-23-30-4-8-5-5-5-2-30-30-1-6 6 1 30 30 5 0 30 30 5 0 30 30 5 0 25 25 5 0 30 30 2 0-4 10-3 3-5 1-16-14-9-5-15-15-5-2-5 2 1 5 4 5 32 30 8 10 2 5-6 15 0 10 13 40 15 25 6 13 1 7-2 5-18 25-11 13-6 17-2 5-12 12-5 4-10 4-25 7-25 5-6 3-11 10-8 4-50 8-40 1-35-1-20 2-15-2-25-7-15-7-40-20-5-3-15-15-30-18-45-17-25-15-25-7-12-8-13-11-5-2-20-3-40-13-8-6-5-5-7-13-5-12-4-25 0-15 5-25 4-12 5-6 20-11 5-1 10-1 10 2 39 14 16 3 45 4 10-2 10-5 10-6 10-10 15-24 12-15 28-85 5-8 10-10 10-5 50-14 24-13z"/>
<path fill="#fce28c" d="M1155 260l20-3 30 2 10 3 25 10 15 9 28 19 22 9 15 8 65 49 3-1-10-15-5-10-24-30-3-5 2-7 22 22 5 0 30 30 5 0 25 25 5 0 16 16-6 5-5 2-5 0-5-3-15-14-5-2-12 1 1 5 7 10 20 20 12 15 5 15-1 15 1 5 13 40 20 35 2 10-2 5-18 25-8 10-3 5-4 15-3 5-10 10-10 6-10 4-20 5-27 5-8 5-10 9-10 3-45 8-40 1-35-1-20 1-15-2-25-7-15-7-41-20-6-5-9-10-15-10-6-5-8-11-5-4-25-7-40-21-30-11-20-15-10-2-20-2-30-8-10-4-6-5-4-5-8-15-6-25-2-15 6-28 5-8 5-5 15-8 10-1 30 10 30 7 50 6 10-1 10-2 20-8 8-7 4-5 24-40 3-10 2-15 3-10 16-39 5-9 10-8 10-6 33-8z"/>
<path fill="#feda86" d="M1150 280l15-4 10 0 30 8 23 11 32 9 20 9 25 8 25 11 20 13 41 35 30 30 15 20 4 11 4 19 13 40 20 40 2 10-4 8-23 32-7 22-10 11-10 6-16 6-44 9-15 12-10 4-40 8-45 1-60-1-30-8-25-10-35-17-5-4-10-12-10-7-5-5-10-19-5-7-5-3-5-2-20-5-17-9-7-5-14-15-7-4-25-3-20-7-30-1-20-5-15-5-5-3-5-5-7-12-4-10-4-16-1-9 1-11 4-14 4-5 7-6 10-5 10-1 10 2 34 10 26 11 40 13 5 0 5-2 30-19 19-18 11-16 5-11 9-28 1-15 2-10 3-8 10-18 10-10 10-7 15-7 18-5zM1357 307l13 13 5 0 30 30 5 0 25 25 5 0 9 9-4 5-5 3-5-2-15-13-10-3-10-6-17-18-8-20-17-20z"/>
<path fill="#fed07d" d="M1170 295l55 14 35 8 40 15 40 18 10 5 15 10 31 30 18 15 15 20 4 10 7 20 8 20 7 25 19 40 0 5-2 5-23 35-5 20-4 6-10 8-13 6-15 5-37 7-20 13-35 9-15 2-45 1-55-1-40-13-40-18-10-6-23-24-12-25-10-15-5-4-15-6-6-5-16-20-6-10-1-5 0-10 4-10 20-19 5-6 7-15 8-25 15-17 8-13 3-10 0-15 4-15 0-15 5-11 10-11 20-13 20-9 27-6zM1394 339l11 11 5 0 4 4-5 6-4 1-5-2-5-4-4-5-2-5 2-5zM870 435l10-3 15 1 32 22 6 5 3 5 0 5 0 15-3 5-13 10-10 6-5 2-5 0-10-4-15-1-5-2-5-6-6-15-4-20 2-10 3-6 9-9z"/>
<path fill="#fdc574" d="M1160 314l10-3 10 1 61 13 19 5 40 15 61 30 6 5 9 15 6 5 21 10 7 5 10 13 5 8 9 24 11 20 7 25 16 40 0 5-2 5-19 35-5 20-4 5-8 6-19 9-16 5-30 5-5 2-15 10-26 8-24 4-40 2-55-3-10-1-40-14-37-18-8-6-17-19-8-20-18-35-13-30 0-10 3-15 8-27 8-33 2-5 14-20 5-10 1-10-1-15 4-25 7-7 27-18 13-6 15-4zM875 443l10-1 5 1 5 7 4 10 1 10-1 10-4 6-9 4-11 1-5-3-2-3-3-10-1-15 4-10 4-5z"/>
<path fill="#fdba6b" d="M1165 329l10-2 15 1 40 7 25 7 35 12 65 31 19 20 8 5 18 8 10 8 10 14 8 20 13 20 4 10 5 20 11 30 2 10-18 38-4 17-2 5-9 8-26 12-14 4-25 3-7 3-13 8-36 12-14 2-40 1-60-3-43-15-31-15-14-10-12-15-7-20-13-30-8-35 1-30 6-30 7-25 21-35 0-5-6-20 2-10 2-5 10-8 25-13 25-9zM880 453l5 1 3 6 0 10-3 4-5 2-5-4-2-7 0-5 3-5z"/>
<path fill="#fdb062" d="M1165 344l15-2 20 1 25 4 25 6 25 9 75 33 20 16 27 14 8 7 9 13 10 20 11 14 5 9 6 22 10 30 2 10-15 35-5 20-2 5-6 4-30 15-40 8-15 8-15 3-25 10-12 2-43 1-55-5-40-14-26-12-19-14-8-11-15-45-8-40 0-30 6-30 5-16 8-14 11-15 12-10 3-5 0-5-14-20 0-5 4-5 16-10 10-4 20-6z"/>
<path fill="#fba35c" d="M1175 355l15 0 15 1 20 4 19 5 21 7 50 22 35 13 39 23 11 8 9 12 11 20 15 20 15 47 2 13-13 35-5 20-5 5-14 6-15 9-17 5-23 4-15 7-20 5-25 10-50 2-40-3-15-3-36-12-22-10-19-15-7-10-13-40-8-45 0-30 5-27 5-13 15-22 5-5 25-18 4-5 0-5-14-19 0-6 5-5 5-2 30-8z"/>
<path fill="#fa9555" d="M1180 369l15 1 45 10 50 18 45 15 25 10 21 12 19 15 15 25 15 20 10 27 5 22 0 6-15 47-5 8-25 16-10 4-30 6-15 6-20 4-25 11-50 3-55-7-35-12-14-6-8-5-11-10-6-10-10-30-9-45-1-35 6-25 5-15 15-20 23-16 23-14 6-5 2-5-1-5-6-15 4-5z"/>
<path fill="#f8874f" d="M1220 405l20-3 15 1 30 8 35 8 45 18 25 17 10 10 21 31 10 25 4 25-1 10-9 26-9 19-3 5-14 10-10 5-44 13-25 5-25 9-45 4-55-8-25-8-20-9-14-11-6-10-8-30-9-35-1-15 1-30 13-35 10-15 29-20 35-16 19-4z"/>
<path fill="#f67949" d="M1235 420l25 0 55 10 35 12 15 7 28 21 15 20 13 30 2 25-2 15-13 30-8 14-7 6-22 10-31 10-25 5-15 6-45 5-10-1-50-7-24-8-11-5-10-7-8-8-2-5-18-75 2-30 3-10 13-27 5-8 21-15 14-7 35-11 16-2z"/>
<path fill="#f36c43" d="M1225 434l40 0 40 5 15 4 30 10 26 17 17 15 7 10 8 20 3 15 0 15-1 10-10 22-17 23-12 10-22 10-14 5-40 11-45 4-50-6-13-4-20-10-12-9-5-8-7-28-4-20-7-20 0-5 4-30 3-10 11-20 10-10 25-15 37-10z"/>
<path fill="#ed6246" d="M1235 444l35 0 30 5 15 4 35 12 20 13 12 12 13 21 5 14 0 20-4 10-42 50-17 10-26 10-11 3-15 0-30 6-10 0-45-6-17-8-14-10-6-10-8-22-11-48 5-35 6-12 10-12 10-7 20-10 36-9z"/>
<path fill="#e65848" d="M1240 455l25-2 30 5 15 4 40 16 10 6 6 6 22 35 1 5 0 10-2 5-3 5-36 35-19 20-7 5-17 8-5 0-5-1-15-10-5-1-5 1-14 18-6 2-24-2-24-5-10-5-7-5-4-5-16-33-10-37-2-10 2-20 5-10 15-17 10-7 20-9 32-7z"/>
<path fill="#e04e4b" d="M1235 465l25-3 15 1 25 6 40 16 9 5 5 5 9 15 12 15 2 5 1 5-2 5-6 8-25 23-21 14-14 15-5 4-5 0-10-7-5-3-10 0-5 1-5 3-12 17-3 2-5 2-35-7-5-2-7-5-24-40-4-15-7-15-3-10 1-10 3-10 21-21 24-14 25-5z"/>
<path fill="#d9444d" d="M1225 474l20-2 20-1 30 5 15 5 20 9 8 5 4 5 11 20 10 10 0 5-3 5-17 20-7 5-36 17-25 2-10 2-5 4-10 14-5 2-7-1-10-5-18-11-10-8-15-19-17-37 1-10 8-10 28-23 10-5 7-2z"/>
<path fill="#d0394e" d="M1245 480l20 0 30 5 10 3 16 7 7 5 3 5 10 25 0 5-1 10-2 5-4 5-9 5-30 11-30 5-15 6-5 0-30-9-13-8-7-9-3-6-9-20-3-10 1-5 8-10 11-9 10-7 7-4 8-3 18-2z"/>
<path fill="#c52c4b" d="M1230 489l10 0 19 1 36 5 10 2 6 3 6 5 2 5 0 10 11 15 0 5-1 5-6 5-8 4-30 9-40 5-15-3-10-4-14-11-3-5-1-5 1-15-1-5-5-5 0-5 3-5 7-5 13-7 8-3z"/>
<path fill="#b91f48" d="M1235 500l10 4 5 1 10-1 35 2 5 2 2 2-2 15 1 10-1 5-3 5-7 5-10 3-10 2-15 1-10 0-10-3-6-3-11-10-1-5 4-25 2-5 2-2 5-3 4 0z"/>
<path fill="#ae1246" d="M1265 523l5-2 10 0 5 3-1 6-4 2-10-2-5-3-2-2z"/>
<circle cx="1047.5" cy="584.2" r="5.6" fill="#e8f397"/>
<circle cx="1053.9" cy="600" r="5.6" fill="#dff299"/>
<circle cx="1043.7" cy="530.6" r="5.6" fill="#f7e68f"/>
<circle cx="1050.1" cy="546.4" r="5.6" fill="#f2ea91"/>
<circle cx="1056.6" cy="562.2" r="5.6" fill="#f2ea91"/>
<circle cx="1063" cy="578" r="5.6" fill="#edef94"/>
<circle cx="1069.5" cy="593.8" r="5.6" fill="#edef94"/>
<circle cx="1075.9" cy="609.6" r="5.6" fill="#e8f397"/>
<circle cx="1046.3" cy="492.8" r="5.6" fill="#f7e68f"/>
<circle cx="1052.8" cy="508.6" r="5.6" fill="#f7e68f"/>
<circle cx="1059.2" cy="524.4" r="5.6" fill="#fce28c"/>
<circle cx="1065.7" cy="540.2" r="5.6" fill="#fce28c"/>
<circle cx="1072.1" cy="556" r="5.6" fill="#fce28c"/>
<circle cx="1078.6" cy="571.8" r="5.6" fill="#feda86"/>
<circle cx="1085" cy="587.6" r="5.6" fill="#fce28c"/>
<circle cx="1091.5" cy="603.4" r="5.6" fill="#fce28c"/>
<circle cx="1097.9" cy="619.2" r="5.6" fill="#f7e68f"/>
<circle cx="1104.4" cy="635" r="5.6" fill="#e8f397"/>
<circle cx="1042.5" cy="439.2" r="5.6" fill="#edef94"/>
<circle cx="1049" cy="455" r="5.6" fill="#f2ea91"/>
<circle cx="1055.4" cy="470.8" r="5.6" fill="#f7e68f"/>
<circle cx="1061.9" cy="486.6" r="5.6" fill="#fce28c"/>
<circle cx="1068.3" cy="502.4" r="5.6" fill="#feda86"/>
<circle cx="1074.8" cy="518.2" r="5.6" fill="#fed07d"/>
<circle cx="1081.2" cy="534" r="5.6" fill="#fed07d"/>
<circle cx="1087.7" cy="549.8" r="5.6" fill="#fdc574"/>
<circle cx="1094.1" cy="565.6" r="5.6" fill="#fdba6b"/>
<circle cx="1100.6" cy="581.4" r="5.6" fill="#fdba6b"/>
<circle cx="1107" cy="597.2" r="5.6" fill="#fdba6b"/>
<circle cx="1113.5" cy="613" r="5.6" fill="#fdba6b"/>
<circle cx="1119.9" cy="628.8" r="5.6" fill="#feda86"/>
<circle cx="1126.4" cy="644.6" r="5.6" fill="#e8f397"/>
<circle cx="1132.8" cy="660.4" r="5.6" fill="#bae3a1"/>
<circle cx="1038.7" cy="385.6" r="5.6" fill="#d3ed9c"/>
<circle cx="1045.2" cy="401.4" r="5.6" fill="#dff299"/>
<circle cx="1051.6" cy="417.2" r="5.6" fill="#e8f397"/>
<circle cx="1058" cy="433" r="5.6" fill="#f2ea91"/>
<circle cx="1064.5" cy="448.8" r="5.6" fill="#f7e68f"/>
<circle cx="1071" cy="464.6" r="5.6" fill="#fce28c"/>
<circle cx="1077.4" cy="480.4" r="5.6" fill="#fed07d"/>
<circle cx="1083.9" cy="496.2" r="5.6" fill="#fdc574"/>
<circle cx="1090.3" cy="512" r="5.6" fill="#fdba6b"/>
<circle cx="1096.8" cy="527.8" r="5.6" fill="#fdb062"/>
<circle cx="1103.2" cy="543.6" r="5.6" fill="#fba35c"/>
<circle cx="1109.7" cy="559.4" r="5.6" fill="#fba35c"/>
<circle cx="1116.1" cy="575.2" r="5.6" fill="#fba35c"/>
<circle cx="1122.5" cy="591" r="5.6" fill="#fa9555"/>
<circle cx="1129" cy="606.8" r="5.6" fill="#f8874f"/>
<circle cx="1135.5" cy="622.6" r="5.6" fill="#fdb062"/>
<circle cx="1141.9" cy="638.4" r="5.6" fill="#feda86"/>
<circle cx="1148.4" cy="654.2" r="5.6" fill="#e8f397"/>
<circle cx="1054.2" cy="379.4" r="5.6" fill="#dff299"/>
<circle cx="1060.7" cy="395.2" r="5.6" fill="#e8f397"/>
<circle cx="1067.2" cy="411" r="5.6" fill="#edef94"/>
<circle cx="1073.6" cy="426.8" r="5.6" fill="#f7e68f"/>
<circle cx="1080" cy="442.6" r="5.6" fill="#feda86"/>
<circle cx="1086.5" cy="458.4" r="5.6" fill="#fdc574"/>
<circle cx="1093" cy="474.2" r="5.6" fill="#fdba6b"/>
<circle cx="1099.4" cy="490" r="5.6" fill="#fba35c"/>
<circle cx="1105.8" cy="505.8" r="5.6" fill="#fba35c"/>
<circle cx="1112.3" cy="521.6" r="5.6" fill="#fa9555"/>
<circle cx="1118.8" cy="537.4" r="5.6" fill="#f67949"/>
<circle cx="1125.2" cy="553.2" r="5.6" fill="#f67949"/>
<circle cx="1131.7" cy="569" r="5.6" fill="#f67949"/>
<circle cx="1138.1" cy="584.8" r="5.6" fill="#f36c43"/>
<circle cx="1144.5" cy="600.6" r="5.6" fill="#f36c43"/>
<circle cx="1151" cy="616.4" r="5.6" fill="#f36c43"/>
<circle cx="1157.5" cy="632.2" r="5.6" fill="#fa9555"/>
<circle cx="1163.9" cy="648" r="5.6" fill="#feda86"/>
<circle cx="1170.3" cy="663.8" r="5.6" fill="#e8f397"/>
<circle cx="1069.8" cy="373.2" r="5.6" fill="#e8f397"/>
<circle cx="1076.3" cy="389" r="5.6" fill="#edef94"/>
<circle cx="1082.7" cy="404.8" r="5.6" fill="#f7e68f"/>
<circle cx="1089.2" cy="420.6" r="5.6" fill="#feda86"/>
<circle cx="1095.6" cy="436.4" r="5.6" fill="#fed07d"/>
<circle cx="1102.1" cy="452.2" r="5.6" fill="#fdba6b"/>
<circle cx="1108.5" cy="468" r="5.6" fill="#fba35c"/>
<circle cx="1115" cy="483.8" r="5.6" fill="#fa9555"/>
<circle cx="1121.4" cy="499.6" r="5.6" fill="#f67949"/>
<circle cx="1127.9" cy="515.4" r="5.6" fill="#f36c43"/>
<circle cx="1134.3" cy="531.2" r="5.6" fill="#ed6246"/>
<circle cx="1140.8" cy="547" r="5.6" fill="#e65848"/>
<circle cx="1147.2" cy="562.8" r="5.6" fill="#e65848"/>
<circle cx="1153.7" cy="578.6" r="5.6" fill="#e04e4b"/>
<circle cx="1160.1" cy="594.4" r="5.6" fill="#e04e4b"/>
<circle cx="1166.6" cy="610.2" r="5.6" fill="#e65848"/>
<circle cx="1173" cy="626" r="5.6" fill="#ed6246"/>
<circle cx="1179.5" cy="641.8" r="5.6" fill="#fa9555"/>
<circle cx="1185.9" cy="657.6" r="5.6" fill="#f7e68f"/>
<circle cx="1192.4" cy="673.4" r="5.6" fill="#d3ed9c"/>
<circle cx="1091.8" cy="382.8" r="5.6" fill="#f7e68f"/>
<circle cx="1098.3" cy="398.6" r="5.6" fill="#feda86"/>
<circle cx="1104.7" cy="414.4" r="5.6" fill="#fed07d"/>
<circle cx="1111.2" cy="430.2" r="5.6" fill="#fdba6b"/>
<circle cx="1117.6" cy="446" r="5.6" fill="#fba35c"/>
<circle cx="1124.1" cy="461.8" r="5.6" fill="#fa9555"/>
<circle cx="1130.5" cy="477.6" r="5.6" fill="#f67949"/>
<circle cx="1137" cy="493.4" r="5.6" fill="#ed6246"/>
<circle cx="1143.4" cy="509.2" r="5.6" fill="#e04e4b"/>
<circle cx="1149.9" cy="525" r="5.6" fill="#d9444d"/>
<circle cx="1156.3" cy="540.8" r="5.6" fill="#d9444d"/>
<circle cx="1162.8" cy="556.6" r="5.6" fill="#d0394e"/>
<circle cx="1169.2" cy="572.4" r="5.6" fill="#d0394e"/>
<circle cx="1175.7" cy="588.2" r="5.6" fill="#d9444d"/>
<circle cx="1182.1" cy="604" r="5.6" fill="#d9444d"/>
<circle cx="1188.6" cy="619.8" r="5.6" fill="#e04e4b"/>
<circle cx="1195" cy="635.6" r="5.6" fill="#f36c43"/>
<circle cx="1201.5" cy="651.4" r="5.6" fill="#fdb062"/>
<circle cx="1207.9" cy="667.2" r="5.6" fill="#f2ea91"/>
<circle cx="1107.4" cy="376.6" r="5.6" fill="#fed07d"/>
<circle cx="1113.8" cy="392.4" r="5.6" fill="#fed07d"/>
<circle cx="1120.2" cy="408.2" r="5.6" fill="#fdc574"/>
<circle cx="1126.7" cy="424" r="5.6" fill="#fdb062"/>
<circle cx="1133.2" cy="439.8" r="5.6" fill="#fa9555"/>
<circle cx="1139.6" cy="455.6" r="5.6" fill="#f67949"/>
<circle cx="1146.1" cy="471.4" r="5.6" fill="#f36c43"/>
<circle cx="1152.5" cy="487.2" r="5.6" fill="#e65848"/>
<circle cx="1159" cy="503" r="5.6" fill="#d0394e"/>
<circle cx="1165.4" cy="518.8" r="5.6" fill="#c52c4b"/>
<circle cx="1171.9" cy="534.6" r="5.6" fill="#c52c4b"/>
<circle cx="1178.3" cy="550.4" r="5.6" fill="#b91f48"/>
<circle cx="1184.8" cy="566.2" r="5.6" fill="#c52c4b"/>
<circle cx="1191.2" cy="582" r="5.6" fill="#c52c4b"/>
<circle cx="1197.7" cy="597.8" r="5.6" fill="#c52c4b"/>
<circle cx="1204.1" cy="613.6" r="5.6" fill="#d0394e"/>
<circle cx="1210.6" cy="629.4" r="5.6" fill="#e04e4b"/>
<circle cx="1217" cy="645.2" r="5.6" fill="#f8874f"/>
<circle cx="1223.5" cy="661" r="5.6" fill="#fed07d"/>
<circle cx="1229.9" cy="676.8" r="5.6" fill="#c6e89e"/>
<circle cx="1122.9" cy="370.4" r="5.6" fill="#fdba6b"/>
<circle cx="1129.4" cy="386.2" r="5.6" fill="#fdc574"/>
<circle cx="1135.8" cy="402" r="5.6" fill="#fdc574"/>
<circle cx="1142.2" cy="417.8" r="5.6" fill="#fdb062"/>
<circle cx="1148.7" cy="433.6" r="5.6" fill="#f8874f"/>
<circle cx="1155.2" cy="449.4" r="5.6" fill="#f36c43"/>
<circle cx="1161.6" cy="465.2" r="5.6" fill="#e65848"/>
<circle cx="1168" cy="481" r="5.6" fill="#d9444d"/>
<circle cx="1174.5" cy="496.8" r="5.6" fill="#c52c4b"/>
<circle cx="1181" cy="512.6" r="5.6" fill="#ae1246"/>
<circle cx="1187.4" cy="528.4" r="5.6" fill="#ae1246"/>
<circle cx="1193.9" cy="544.2" r="5.6" fill="#ae1246"/>
<circle cx="1200.3" cy="560" r="5.6" fill="#ae1246"/>
<circle cx="1206.8" cy="575.8" r="5.6" fill="#b91f48"/>
<circle cx="1213.2" cy="591.6" r="5.6" fill="#b91f48"/>
<circle cx="1219.7" cy="607.4" r="5.6" fill="#c52c4b"/>
<circle cx="1226.1" cy="623.2" r="5.6" fill="#d9444d"/>
<circle cx="1232.5" cy="639" r="5.6" fill="#ed6246"/>
<circle cx="1239" cy="654.8" r="5.6" fill="#fba35c"/>
<circle cx="1245.5" cy="670.6" r="5.6" fill="#e8f397"/>
<circle cx="1138.5" cy="364.2" r="5.6" fill="#fdba6b"/>
<circle cx="1144.9" cy="380" r="5.6" fill="#fdb062"/>
<circle cx="1151.3" cy="395.8" r="5.6" fill="#fdba6b"/>
<circle cx="1157.8" cy="411.6" r="5.6" fill="#fba35c"/>
<circle cx="1164.2" cy="427.4" r="5.6" fill="#f8874f"/>
<circle cx="1170.7" cy="443.2" r="5.6" fill="#f36c43"/>
<circle cx="1177.2" cy="459" r="5.6" fill="#e65848"/>
<circle cx="1183.6" cy="474.8" r="5.6" fill="#d0394e"/>
<circle cx="1190" cy="490.6" r="5.6" fill="#c52c4b"/>
<circle cx="1196.5" cy="506.4" r="5.6" fill="#ae1246"/>
<circle cx="1203" cy="522.2" r="5.6" fill="#a20543"/>
<circle cx="1209.4" cy="538" r="5.6" fill="#a20543"/>
<circle cx="1215.8" cy="553.8" r="5.6" fill="#a20543"/>
<circle cx="1222.3" cy="569.6" r="5.6" fill="#ae1246"/>
<circle cx="1228.8" cy="585.4" r="5.6" fill="#b91f48"/>
<circle cx="1235.2" cy="601.2" r="5.6" fill="#b91f48"/>
<circle cx="1241.7" cy="617" r="5.6" fill="#c52c4b"/>
<circle cx="1248.1" cy="632.8" r="5.6" fill="#e04e4b"/>
<circle cx="1254.5" cy="648.6" r="5.6" fill="#f8874f"/>
<circle cx="1261" cy="664.4" r="5.6" fill="#f7e68f"/>
<circle cx="1154" cy="358" r="5.6" fill="#fdba6b"/>
<circle cx="1160.5" cy="373.8" r="5.6" fill="#fdb062"/>
<circle cx="1166.9" cy="389.6" r="5.6" fill="#fdb062"/>
<circle cx="1173.4" cy="405.4" r="5.6" fill="#fba35c"/>
<circle cx="1179.8" cy="421.2" r="5.6" fill="#f8874f"/>
<circle cx="1186.3" cy="437" r="5.6" fill="#f36c43"/>
<circle cx="1192.7" cy="452.8" r="5.6" fill="#e04e4b"/>
<circle cx="1199.2" cy="468.6" r="5.6" fill="#d0394e"/>
<circle cx="1205.6" cy="484.4" r="5.6" fill="#b91f48"/>
<circle cx="1212.1" cy="500.2" r="5.6" fill="#a20543"/>
<circle cx="1218.5" cy="516" r="5.6" fill="#a20543"/>
<circle cx="1225" cy="531.8" r="5.6" fill="#a20543"/>
<circle cx="1231.4" cy="547.6" r="5.6" fill="#a20543"/>
<circle cx="1237.9" cy="563.4" r="5.6" fill="#a20543"/>
<circle cx="1244.3" cy="579.2" r="5.6" fill="#ae1246"/>
<circle cx="1250.8" cy="595" r="5.6" fill="#b91f48"/>
<circle cx="1257.2" cy="610.8" r="5.6" fill="#c52c4b"/>
<circle cx="1263.7" cy="626.6" r="5.6" fill="#d9444d"/>
<circle cx="1270.1" cy="642.4" r="5.6" fill="#ed6246"/>
<circle cx="1276.6" cy="658.2" r="5.6" fill="#fdc574"/>
<circle cx="1283" cy="674" r="5.6" fill="#c6e89e"/>
<circle cx="1169.6" cy="351.8" r="5.6" fill="#fdc574"/>
<circle cx="1176" cy="367.6" r="5.6" fill="#fba35c"/>
<circle cx="1182.5" cy="383.4" r="5.6" fill="#fba35c"/>
<circle cx="1188.9" cy="399.2" r="5.6" fill="#fba35c"/>
<circle cx="1195.4" cy="415" r="5.6" fill="#f8874f"/>
<circle cx="1201.8" cy="430.8" r="5.6" fill="#f36c43"/>
<circle cx="1208.3" cy="446.6" r="5.6" fill="#e65848"/>
<circle cx="1214.7" cy="462.4" r="5.6" fill="#d9444d"/>
<circle cx="1221.2" cy="478.2" r="5.6" fill="#b91f48"/>
<circle cx="1227.6" cy="494" r="5.6" fill="#a20543"/>
<circle cx="1234.1" cy="509.8" r="5.6" fill="#a20543"/>
<circle cx="1240.5" cy="525.6" r="5.6" fill="#a20543"/>
<circle cx="1247" cy="541.4" r="5.6" fill="#a20543"/>
<circle cx="1253.4" cy="557.2" r="5.6" fill="#a20543"/>
<circle cx="1259.9" cy="573" r="5.6" fill="#ae1246"/>
<circle cx="1266.3" cy="588.8" r="5.6" fill="#c52c4b"/>
<circle cx="1272.8" cy="604.6" r="5.6" fill="#d9444d"/>
<circle cx="1279.2" cy="620.4" r="5.6" fill="#e04e4b"/>
<circle cx="1285.7" cy="636.2" r="5.6" fill="#ed6246"/>
<circle cx="1292.1" cy="652" r="5.6" fill="#fa9555"/>
<circle cx="1298.6" cy="667.8" r="5.6" fill="#dff299"/>
<circle cx="1185.1" cy="345.6" r="5.6" fill="#fdc574"/>
<circle cx="1191.6" cy="361.4" r="5.6" fill="#fdb062"/>
<circle cx="1198" cy="377.2" r="5.6" fill="#fba35c"/>
<circle cx="1204.5" cy="393" r="5.6" fill="#fa9555"/>
<circle cx="1210.9" cy="408.8" r="5.6" fill="#f8874f"/>
<circle cx="1217.4" cy="424.6" r="5.6" fill="#f36c43"/>
<circle cx="1223.8" cy="440.4" r="5.6" fill="#e65848"/>
<circle cx="1230.2" cy="456.2" r="5.6" fill="#d9444d"/>
<circle cx="1236.7" cy="472" r="5.6" fill="#c52c4b"/>
<circle cx="1243.2" cy="487.8" r="5.6" fill="#a20543"/>
<circle cx="1249.6" cy="503.6" r="5.6" fill="#a20543"/>
<circle cx="1256.1" cy="519.4" r="5.6" fill="#a20543"/>
<circle cx="1262.5" cy="535.2" r="5.6" fill="#a20543"/>
<circle cx="1269" cy="551" r="5.6" fill="#a20543"/>
<circle cx="1275.4" cy="566.8" r="5.6" fill="#a20543"/>
<circle cx="1281.9" cy="582.6" r="5.6" fill="#c52c4b"/>
<circle cx="1288.3" cy="598.4" r="5.6" fill="#d0394e"/>
<circle cx="1294.8" cy="614.2" r="5.6" fill="#d0394e"/>
<circle cx="1301.2" cy="630" r="5.6" fill="#e65848"/>
<circle cx="1307.7" cy="645.8" r="5.6" fill="#fa9555"/>
<circle cx="1314.1" cy="661.6" r="5.6" fill="#fce28c"/>
<circle cx="1200.7" cy="339.4" r="5.6" fill="#fed07d"/>
<circle cx="1207.1" cy="355.2" r="5.6" fill="#fdba6b"/>
<circle cx="1213.5" cy="371" r="5.6" fill="#fba35c"/>
<circle cx="1220" cy="386.8" r="5.6" fill="#fba35c"/>
<circle cx="1226.5" cy="402.6" r="5.6" fill="#f8874f"/>
<circle cx="1232.9" cy="418.4" r="5.6" fill="#f67949"/>
<circle cx="1239.4" cy="434.2" r="5.6" fill="#ed6246"/>
<circle cx="1245.8" cy="450" r="5.6" fill="#d9444d"/>
<circle cx="1252.2" cy="465.8" r="5.6" fill="#c52c4b"/>
<circle cx="1258.7" cy="481.6" r="5.6" fill="#ae1246"/>
<circle cx="1265.2" cy="497.4" r="5.6" fill="#a20543"/>
<circle cx="1271.6" cy="513.2" r="5.6" fill="#a20543"/>
<circle cx="1278" cy="529" r="5.6" fill="#a20543"/>
<circle cx="1284.5" cy="544.8" r="5.6" fill="#a20543"/>
<circle cx="1291" cy="560.6" r="5.6" fill="#a20543"/>
<circle cx="1297.4" cy="576.4" r="5.6" fill="#b91f48"/>
<circle cx="1303.9" cy="592.2" r="5.6" fill="#c52c4b"/>
<circle cx="1310.3" cy="608" r="5.6" fill="#d0394e"/>
<circle cx="1316.8" cy="623.8" r="5.6" fill="#e65848"/>
<circle cx="1323.2" cy="639.6" r="5.6" fill="#fba35c"/>
<circle cx="1329.7" cy="655.4" r="5.6" fill="#fce28c"/>
<circle cx="1216.2" cy="333.2" r="5.6" fill="#feda86"/>
<circle cx="1222.7" cy="349" r="5.6" fill="#fdc574"/>
<circle cx="1229.1" cy="364.8" r="5.6" fill="#fdb062"/>
<circle cx="1235.5" cy="380.6" r="5.6" fill="#fba35c"/>
<circle cx="1242" cy="396.4" r="5.6" fill="#fa9555"/>
<circle cx="1248.5" cy="412.2" r="5.6" fill="#f8874f"/>
<circle cx="1254.9" cy="428" r="5.6" fill="#f36c43"/>
<circle cx="1261.3" cy="443.8" r="5.6" fill="#e04e4b"/>
<circle cx="1267.8" cy="459.6" r="5.6" fill="#d0394e"/>
<circle cx="1274.2" cy="475.4" r="5.6" fill="#b91f48"/>
<circle cx="1280.7" cy="491.2" r="5.6" fill="#ae1246"/>
<circle cx="1287.2" cy="507" r="5.6" fill="#a20543"/>
<circle cx="1293.6" cy="522.8" r="5.6" fill="#a20543"/>
<circle cx="1300" cy="538.6" r="5.6" fill="#a20543"/>
<circle cx="1306.5" cy="554.4" r="5.6" fill="#a20543"/>
<circle cx="1313" cy="570.2" r="5.6" fill="#b91f48"/>
<circle cx="1319.4" cy="586" r="5.6" fill="#c52c4b"/>
<circle cx="1325.8" cy="601.8" r="5.6" fill="#d0394e"/>
<circle cx="1332.3" cy="617.6" r="5.6" fill="#e65848"/>
<circle cx="1338.8" cy="633.4" r="5.6" fill="#fa9555"/>
<circle cx="1345.2" cy="649.2" r="5.6" fill="#fce28c"/>
<circle cx="1225.3" cy="311.2" r="5.6" fill="#f2ea91"/>
<circle cx="1231.8" cy="327" r="5.6" fill="#f7e68f"/>
<circle cx="1238.2" cy="342.8" r="5.6" fill="#fed07d"/>
<circle cx="1244.7" cy="358.6" r="5.6" fill="#fdc574"/>
<circle cx="1251.1" cy="374.4" r="5.6" fill="#fdb062"/>
<circle cx="1257.6" cy="390.2" r="5.6" fill="#fba35c"/>
<circle cx="1264" cy="406" r="5.6" fill="#fa9555"/>
<circle cx="1270.5" cy="421.8" r="5.6" fill="#f67949"/>
<circle cx="1276.9" cy="437.6" r="5.6" fill="#e65848"/>
<circle cx="1283.4" cy="453.4" r="5.6" fill="#d9444d"/>
<circle cx="1289.8" cy="469.2" r="5.6" fill="#c52c4b"/>
<circle cx="1296.3" cy="485" r="5.6" fill="#ae1246"/>
<circle cx="1302.7" cy="500.8" r="5.6" fill="#a20543"/>
<circle cx="1309.2" cy="516.6" r="5.6" fill="#a20543"/>
<circle cx="1315.6" cy="532.4" r="5.6" fill="#a20543"/>
<circle cx="1322.1" cy="548.2" r="5.6" fill="#a20543"/>
<circle cx="1328.5" cy="564" r="5.6" fill="#b91f48"/>
<circle cx="1335" cy="579.8" r="5.6" fill="#d0394e"/>
<circle cx="1341.4" cy="595.6" r="5.6" fill="#d9444d"/>
<circle cx="1347.9" cy="611.4" r="5.6" fill="#e65848"/>
<circle cx="1354.3" cy="627.2" r="5.6" fill="#f67949"/>
<circle cx="1360.8" cy="643" r="5.6" fill="#edef94"/>
<circle cx="1240.9" cy="305" r="5.6" fill="#edef94"/>
<circle cx="1247.3" cy="320.8" r="5.6" fill="#f2ea91"/>
<circle cx="1253.8" cy="336.6" r="5.6" fill="#fce28c"/>
<circle cx="1260.2" cy="352.4" r="5.6" fill="#fed07d"/>
<circle cx="1266.7" cy="368.2" r="5.6" fill="#fdba6b"/>
<circle cx="1273.1" cy="384" r="5.6" fill="#fdb062"/>
<circle cx="1279.6" cy="399.8" r="5.6" fill="#fba35c"/>
<circle cx="1286" cy="415.6" r="5.6" fill="#f8874f"/>
<circle cx="1292.5" cy="431.4" r="5.6" fill="#f36c43"/>
<circle cx="1298.9" cy="447.2" r="5.6" fill="#e65848"/>
<circle cx="1305.4" cy="463" r="5.6" fill="#d0394e"/>
<circle cx="1311.8" cy="478.8" r="5.6" fill="#c52c4b"/>
<circle cx="1318.3" cy="494.6" r="5.6" fill="#ae1246"/>
<circle cx="1324.7" cy="510.4" r="5.6" fill="#ae1246"/>
<circle cx="1331.2" cy="526.2" r="5.6" fill="#ae1246"/>
<circle cx="1337.6" cy="542" r="5.6" fill="#ae1246"/>
<circle cx="1344.1" cy="557.8" r="5.6" fill="#c52c4b"/>
<circle cx="1350.5" cy="573.6" r="5.6" fill="#d0394e"/>
<circle cx="1357" cy="589.4" r="5.6" fill="#d9444d"/>
<circle cx="1363.4" cy="605.2" r="5.6" fill="#e65848"/>
<circle cx="1369.9" cy="621" r="5.6" fill="#f67949"/>
<circle cx="1376.3" cy="636.8" r="5.6" fill="#feda86"/>
<circle cx="1256.4" cy="298.8" r="5.6" fill="#e8f397"/>
<circle cx="1262.9" cy="314.6" r="5.6" fill="#edef94"/>
<circle cx="1269.3" cy="330.4" r="5.6" fill="#f7e68f"/>
<circle cx="1275.8" cy="346.2" r="5.6" fill="#fce28c"/>
<circle cx="1282.2" cy="362" r="5.6" fill="#fed07d"/>
<circle cx="1288.7" cy="377.8" r="5.6" fill="#fdba6b"/>
<circle cx="1295.1" cy="393.6" r="5.6" fill="#fdb062"/>
<circle cx="1301.6" cy="409.4" r="5.6" fill="#fa9555"/>
<circle cx="1308" cy="425.2" r="5.6" fill="#f67949"/>
<circle cx="1314.5" cy="441" r="5.6" fill="#ed6246"/>
<circle cx="1320.9" cy="456.8" r="5.6" fill="#e04e4b"/>
<circle cx="1327.4" cy="472.6" r="5.6" fill="#d0394e"/>
<circle cx="1333.8" cy="488.4" r="5.6" fill="#c52c4b"/>
<circle cx="1340.2" cy="504.2" r="5.6" fill="#b91f48"/>
<circle cx="1346.7" cy="520" r="5.6" fill="#b91f48"/>
<circle cx="1353.2" cy="535.8" r="5.6" fill="#b91f48"/>
<circle cx="1359.6" cy="551.6" r="5.6" fill="#c52c4b"/>
<circle cx="1366.1" cy="567.4" r="5.6" fill="#d0394e"/>
<circle cx="1372.5" cy="583.2" r="5.6" fill="#e04e4b"/>
<circle cx="1379" cy="599" r="5.6" fill="#ed6246"/>
<circle cx="1385.4" cy="614.8" r="5.6" fill="#f67949"/>
<circle cx="1391.9" cy="630.6" r="5.6" fill="#fdc574"/>
<circle cx="1284.9" cy="324.2" r="5.6" fill="#edef94"/>
<circle cx="1291.3" cy="340" r="5.6" fill="#f7e68f"/>
<circle cx="1297.8" cy="355.8" r="5.6" fill="#fce28c"/>
<circle cx="1304.2" cy="371.6" r="5.6" fill="#fed07d"/>
<circle cx="1310.7" cy="387.4" r="5.6" fill="#fdc574"/>
<circle cx="1317.1" cy="403.2" r="5.6" fill="#fba35c"/>
<circle cx="1323.5" cy="419" r="5.6" fill="#fa9555"/>
<circle cx="1330" cy="434.8" r="5.6" fill="#f67949"/>
<circle cx="1336.5" cy="450.6" r="5.6" fill="#ed6246"/>
<circle cx="1342.9" cy="466.4" r="5.6" fill="#e04e4b"/>
<circle cx="1349.4" cy="482.2" r="5.6" fill="#d0394e"/>
<circle cx="1355.8" cy="498" r="5.6" fill="#c52c4b"/>
<circle cx="1362.2" cy="513.8" r="5.6" fill="#c52c4b"/>
<circle cx="1368.7" cy="529.6" r="5.6" fill="#c52c4b"/>
<circle cx="1375.2" cy="545.4" r="5.6" fill="#d0394e"/>
<circle cx="1381.6" cy="561.2" r="5.6" fill="#d9444d"/>
<circle cx="1388" cy="577" r="5.6" fill="#e65848"/>
<circle cx="1394.5" cy="592.8" r="5.6" fill="#f36c43"/>
<circle cx="1401" cy="608.6" r="5.6" fill="#f8874f"/>
<circle cx="1407.4" cy="624.4" r="5.6" fill="#fdc574"/>
<circle cx="1319.8" cy="365.4" r="5.6" fill="#fce28c"/>
<circle cx="1326.2" cy="381.2" r="5.6" fill="#fed07d"/>
<circle cx="1332.7" cy="397" r="5.6" fill="#fdc574"/>
<circle cx="1339.1" cy="412.8" r="5.6" fill="#fba35c"/>
<circle cx="1345.5" cy="428.6" r="5.6" fill="#f8874f"/>
<circle cx="1352" cy="444.4" r="5.6" fill="#f36c43"/>
<circle cx="1358.5" cy="460.2" r="5.6" fill="#ed6246"/>
<circle cx="1364.9" cy="476" r="5.6" fill="#e04e4b"/>
<circle cx="1371.3" cy="491.8" r="5.6" fill="#d9444d"/>
<circle cx="1377.8" cy="507.6" r="5.6" fill="#d9444d"/>
<circle cx="1384.2" cy="523.4" r="5.6" fill="#d0394e"/>
<circle cx="1390.7" cy="539.2" r="5.6" fill="#d9444d"/>
<circle cx="1397.2" cy="555" r="5.6" fill="#e04e4b"/>
<circle cx="1403.6" cy="570.8" r="5.6" fill="#ed6246"/>
<circle cx="1410" cy="586.6" r="5.6" fill="#f67949"/>
<circle cx="1416.5" cy="602.4" r="5.6" fill="#f8874f"/>
<circle cx="1354.7" cy="406.6" r="5.6" fill="#fdc574"/>
<circle cx="1361.1" cy="422.4" r="5.6" fill="#fdb062"/>
<circle cx="1367.6" cy="438.2" r="5.6" fill="#f8874f"/>
<circle cx="1374" cy="454" r="5.6" fill="#f67949"/>
<circle cx="1380.5" cy="469.8" r="5.6" fill="#ed6246"/>
<circle cx="1386.9" cy="485.6" r="5.6" fill="#e65848"/>
<circle cx="1393.4" cy="501.4" r="5.6" fill="#e65848"/>
<circle cx="1399.8" cy="517.2" r="5.6" fill="#e65848"/>
<circle cx="1406.3" cy="533" r="5.6" fill="#e65848"/>
<circle cx="1412.7" cy="548.8" r="5.6" fill="#f36c43"/>
<circle cx="1419.2" cy="564.6" r="5.6" fill="#f67949"/>
<circle cx="1425.6" cy="580.4" r="5.6" fill="#f8874f"/>
<circle cx="1432.1" cy="596.2" r="5.6" fill="#fba35c"/>
<circle cx="1389.6" cy="447.8" r="5.6" fill="#fa9555"/>
<circle cx="1396" cy="463.6" r="5.6" fill="#f8874f"/>
<circle cx="1402.5" cy="479.4" r="5.6" fill="#f67949"/>
<circle cx="1408.9" cy="495.2" r="5.6" fill="#f67949"/>
<circle cx="1415.4" cy="511" r="5.6" fill="#f36c43"/>
<circle cx="1421.8" cy="526.8" r="5.6" fill="#f67949"/>
<circle cx="1428.3" cy="542.6" r="5.6" fill="#f8874f"/>
<circle cx="1434.7" cy="558.4" r="5.6" fill="#fa9555"/>
<circle cx="1441.2" cy="574.2" r="5.6" fill="#fdb062"/>
<circle cx="1447.6" cy="590" r="5.6" fill="#edef94"/>
<circle cx="1424.5" cy="489" r="5.6" fill="#fba35c"/>
<circle cx="1430.9" cy="504.8" r="5.6" fill="#fa9555"/>
<circle cx="1437.4" cy="520.6" r="5.6" fill="#fa9555"/>
<circle cx="1443.8" cy="536.4" r="5.6" fill="#fdb062"/>
<circle cx="1450.2" cy="552.2" r="5.6" fill="#fdb062"/>
<circle cx="1456.7" cy="568" r="5.6" fill="#fce28c"/>
<circle cx="1463.2" cy="583.8" r="5.6" fill="#d3ed9c"/>
<circle cx="1459.4" cy="530.2" r="5.6" fill="#fce28c"/>
<circle cx="1465.8" cy="546" r="5.6" fill="#fce28c"/>
<circle cx="1472.2" cy="561.8" r="5.6" fill="#edef94"/>
<circle cx="1487.8" cy="555.6" r="5.6" fill="#bae3a1"/>
<g fill="#fff" stroke="#fff" stroke-width="9" stroke-linejoin="round">
<polygon points="640,340 654.6,359.2 664.6,368.2 661,377.3 652.8,385.5 651.9,393.7 665.5,405.5 674.6,413.7 673.7,424.6 681.9,433.7 683.7,446.5 690.1,448.3 696.5,446.5 698.3,452.8 716.5,446.5 717.4,468.3 722.8,475.6 720.1,486.5 716.5,499.2 700.1,510.1 685.6,517.4 674.6,524.7 669.2,531.1 658.3,541.1 651,559.3 650.1,572 658.3,573.8 674.6,577.5 681.9,582.9 684.7,599.5 708.6,614.1 720.1,610.9 719,639 733.6,655.6 740.9,668.1 743,678.5 754.4,688.9 757.5,698.3 740.9,709.7 729.4,707.6 730.5,715.9 748.1,724.2 759.6,719 772.1,714.9 801.2,722.2 826.1,728.4 840.7,734.6 844.8,743 861.5,747.1 876,753.3 882.2,761.7 890,765 900.8,770 913.3,778.3 921.6,788.7 934.1,799.1 944.4,809.5 952.8,819.9 967.3,832.3 977.7,840.7 988.1,855.2 996.4,865.6 1017.2,867.7 1025.5,876 1042.2,886.4 1056.7,896.8 1063,905.1 1066,930 300,930 300,340"/>
<polygon points="1176.3,892.6 1166.9,873.9 1152.3,867.7 1139.9,859.4 1129.5,846.9 1119.1,838.6 1106.6,830.3 1102.5,824 1100.4,801.2 1114.9,794.9 1125.3,780.4 1130.7,759.8 1141.6,741.1 1150.3,736.7 1162.7,728.4 1174.2,713.2 1187.7,705.5 1194.4,694.5 1205.3,685.2 1220.8,686.8 1236.3,694.5 1256.5,689.9 1272,696.1 1290.7,688.3 1314,685.2 1337.3,682.1 1351.5,673.3 1360.6,666.4 1378.9,659.5 1392.6,660.7 1408.7,655 1424.7,652.7 1443,657.3 1465.8,660.7 1479.5,658.4 1475,645.8 1475,627.5 1486.4,620.7 1495.5,620.7 1497.8,600.1 1500.1,588.6 1507,574.9 1516.1,568.1 1525.3,570.4 1527.6,558.9 1525.3,542.9 1534.4,540.6 1548.2,542.9 1555,547.5 1566.4,547.5 1580,547.5 1600,545 1720,640 1720,960 1180,960"/>
<polygon points="1086,930 1087.9,913.4 1100.4,896.8 1119.1,888.5 1139.9,886.4 1146.1,892.6 1148.2,913 1149,930"/>
<polygon points="607.3,408.3 620,395.5 631,388.3 645.5,384.6 651,391.9 654.6,408.3 652.8,417.4 645.5,421.9 634.6,424.6 621.9,422.8 619.2,413.7"/>
<polygon points="581.9,428.3 589,425.5 591,430.1 585.5,432.8"/>
<polygon points="570,443.7 580,438.3 591,446.5 591.9,464.7 582.8,472.8 571,457.4"/>
<polygon points="664.6,430.1 660.1,442.8 663.7,461 675.5,474.7 687.4,465.6 683.7,459.2 671,444.6"/>
</g>
<g fill="#fff">
<polygon points="704.7,410.1 711,401 714.7,404.6 707.4,413.7"/>
<polygon points="760.1,433.7 767.4,425.5 778.3,431.9 777.4,450.1 771,456.5 768.3,442.8 760.1,441"/>
<polygon points="914.3,756.5 920.5,749.2 924.7,757.5 918.5,765.8"/>
<polygon points="731.5,597.4 737,590 741.5,597.4 736.5,604.5"/>
<polygon points="732.5,649.4 738,642 742.5,649.4 737.5,656.5"/>
<polygon points="1476,452 1484,470 1492,486 1502,492 1512,488 1525,470 1500,440"/>
<polygon points="1149,913 1146,890 1160,884 1176,890 1180,915"/>
<polygon points="1560,533 1540,537 1520,535 1508,540 1503,556 1495,575 1488,595 1478,606 1466,614 1452,621 1450,637 1454,650 1447,656 1440,662 1480,690 1600,600 1600,533"/>
<polygon points="906,713.8 916.4,695.1 921.6,692 950.7,695.1 960,713.8 948.6,732.6 938.2,730.5 911.2,728.4"/>
</g>
<path d="M1031 371.2 L1046.6 743.4 A731 731 0 0 0 1501.5 559.5 L1254.1 281 A358.5 358.5 0 0 1 1031 371.2 Z" fill="none" stroke="#000" stroke-width="3.6" stroke-linejoin="miter"/>
<g fill="#b3b3b3">
<polygon points="520,440 536,467 541.2,467 545.8,473.6 552.4,463.3 564.6,481 577.6,499.8 583.3,507.2 587,518.5 594.5,526 603.8,535.3 611.3,548.4 605.7,557.8 603.8,567.1 605.7,580.2 613.2,587.7 615.1,597.1 609.5,608.3 624.4,613.9 635.7,621.4 648.8,623.3 665.6,636.4 676.8,643.8 680.6,656.9 678.7,675.7 669.3,686.9 667.5,694.4 678.7,701.9 695.5,711.2 703.5,709.7 722.2,718 740.9,728.4 749.2,737.8 759.6,730.5 772.1,724.2 783.5,733.6 778.3,740.9 767.9,740.9 764.8,750.2 774.1,759.6 775.2,772.1 786.6,773.1 796,767.9 797,747.1 801.2,730.5 817.8,736.7 841.7,740.9 855.2,745 876,755.4 886.2,762.7 900.8,776.2 915.3,786.6 925.7,799.1 938.2,811.6 948.6,824 961.1,836.5 971.5,846.9 984,861.5 990.2,869.8 1015.1,871.9 1025.5,882.3 1038,892.6 1050.5,903 1058.8,909.3 1060,940 300,940 300,440"/>
<polygon points="1176.3,892.6 1166.9,873.9 1152.3,867.7 1139.9,859.4 1129.5,846.9 1119.1,838.6 1106.6,830.3 1102.5,824 1100.4,801.2 1114.9,794.9 1125.3,780.4 1130.7,759.8 1141.6,741.1 1150.3,736.7 1162.7,728.4 1174.2,713.2 1187.7,705.5 1194.4,694.5 1205.3,685.2 1220.8,686.8 1236.3,694.5 1256.5,689.9 1272,696.1 1290.7,688.3 1314,685.2 1337.3,682.1 1351.5,673.3 1360.6,666.4 1378.9,659.5 1392.6,660.7 1408.7,655 1424.7,652.7 1443,657.3 1465.8,660.7 1479.5,658.4 1475,645.8 1475,627.5 1486.4,620.7 1495.5,620.7 1497.8,600.1 1500.1,588.6 1507,574.9 1516.1,568.1 1525.3,570.4 1527.6,558.9 1525.3,542.9 1534.4,540.6 1548.2,542.9 1555,547.5 1566.4,547.5 1580,547.5 1600,545 1720,640 1720,960 1180,960"/>
<polygon points="1086,930 1087.9,913.4 1100.4,896.8 1119.1,888.5 1139.9,886.4 1146.1,892.6 1148.2,913 1149,930"/>
<polygon points="909.1,712.8 913.3,705.5 927.8,701.4 948.6,703.5 954.8,713.8 946.5,720.1 936.1,724.2 923.7,720.1 911.2,722.2"/>
<polygon points="607.3,408.3 620,395.5 631,388.3 645.5,384.6 651,391.9 654.6,408.3 652.8,417.4 645.5,421.9 634.6,424.6 621.9,422.8 619.2,413.7"/>
<polygon points="581.9,428.3 589,425.5 591,430.1 585.5,432.8"/>
<polygon points="570,443.7 580,438.3 591,446.5 591.9,464.7 582.8,472.8 571,457.4"/>
<polygon points="664.6,430.1 660.1,442.8 663.7,461 675.5,474.7 687.4,465.6 683.7,459.2 671,444.6"/>
</g>
</g>
<path d="M1016 13 L362.7 632.6 A900.4 900.4 0 0 0 1669.3 632.6 Z" fill="none" stroke="#000" stroke-width="3.6" stroke-linejoin="miter"/>
<path d="M405 674.4L412.5 666.3M758.8 291.4L751.7 299.1M634.5 828.6L639.1 818.6M855.4 356.3L851 365.8M899.9 905.9L901.3 895M967.1 388.8L965.8 399.2M1176.2 899L1174.3 888.2M1083.4 386L1085.3 396.3M1437.5 808.7L1432.3 798.9M1193.4 347.9L1198.3 357.2M1659 643.3L1651.1 635.6M1286.6 278.3L1294.1 285.7M742.4 272.4L749.3 279.7M471.4 529.4L478.3 536.7M1289.6 272.4L1282.7 279.7M1560.6 529.4L1553.7 536.7" stroke="#000" stroke-width="3" fill="none"/>
<text x="379.6" y="710.4" transform="rotate(42.7 379.6 710.4)" text-anchor="middle" dominant-baseline="central" class="lab">144°E</text>
<text x="622.2" y="870.7" transform="rotate(25.1 622.2 870.7)" text-anchor="middle" dominant-baseline="central" class="lab">162°E</text>
<text x="887.5" y="947.3" transform="rotate(7.4 887.5 947.3)" text-anchor="middle" dominant-baseline="central" class="lab">180°</text>
<text x="1183.7" y="941.6" transform="rotate(-10.2 1183.7 941.6)" text-anchor="middle" dominant-baseline="central" class="lab">162°W</text>
<text x="1457.4" y="844.8" transform="rotate(-27.9 1457.4 844.8)" text-anchor="middle" dominant-baseline="central" class="lab">144°W</text>
<text x="1692.4" y="669.8" transform="rotate(-45.6 1692.4 669.8)" text-anchor="middle" dominant-baseline="central" class="lab">126°W</text>
<rect x="361.3" y="1033.5" width="31" height="33.7" fill="#5b53a4"/>
<rect x="391.7" y="1033.5" width="31" height="33.7" fill="#525faa"/>
<rect x="422.1" y="1033.5" width="31" height="33.7" fill="#486baf"/>
<rect x="452.6" y="1033.5" width="31" height="33.7" fill="#3f77b5"/>
<rect x="483" y="1033.5" width="31" height="33.7" fill="#3683bb"/>
<rect x="513.4" y="1033.5" width="31" height="33.7" fill="#3990ba"/>
<rect x="543.8" y="1033.5" width="31" height="33.7" fill="#449cb5"/>
<rect x="574.2" y="1033.5" width="31" height="33.7" fill="#4fa8b0"/>
<rect x="604.6" y="1033.5" width="31" height="33.7" fill="#5ab4ab"/>
<rect x="635.1" y="1033.5" width="31" height="33.7" fill="#65c1a6"/>
<rect x="665.5" y="1033.5" width="31" height="33.7" fill="#73c7a5"/>
<rect x="695.9" y="1033.5" width="31" height="33.7" fill="#82cda5"/>
<rect x="726.3" y="1033.5" width="31" height="33.7" fill="#90d3a4"/>
<rect x="756.7" y="1033.5" width="31" height="33.7" fill="#9fd8a4"/>
<rect x="787.2" y="1033.5" width="31" height="33.7" fill="#addea4"/>
<rect x="817.6" y="1033.5" width="31" height="33.7" fill="#bae3a1"/>
<rect x="848" y="1033.5" width="31" height="33.7" fill="#c6e89e"/>
<rect x="878.4" y="1033.5" width="31" height="33.7" fill="#d3ed9c"/>
<rect x="908.8" y="1033.5" width="31" height="33.7" fill="#dff299"/>
<rect x="939.3" y="1033.5" width="31" height="33.7" fill="#e8f397"/>
<rect x="969.7" y="1033.5" width="31" height="33.7" fill="#edef94"/>
<rect x="1000.1" y="1033.5" width="31" height="33.7" fill="#f2ea91"/>
<rect x="1030.5" y="1033.5" width="31" height="33.7" fill="#f7e68f"/>
<rect x="1060.9" y="1033.5" width="31" height="33.7" fill="#fce28c"/>
<rect x="1091.3" y="1033.5" width="31" height="33.7" fill="#feda86"/>
<rect x="1121.8" y="1033.5" width="31" height="33.7" fill="#fed07d"/>
<rect x="1152.2" y="1033.5" width="31" height="33.7" fill="#fdc574"/>
<rect x="1182.6" y="1033.5" width="31" height="33.7" fill="#fdba6b"/>
<rect x="1213" y="1033.5" width="31" height="33.7" fill="#fdb062"/>
<rect x="1243.4" y="1033.5" width="31" height="33.7" fill="#fba35c"/>
<rect x="1273.9" y="1033.5" width="31" height="33.7" fill="#fa9555"/>
<rect x="1304.3" y="1033.5" width="31" height="33.7" fill="#f8874f"/>
<rect x="1334.7" y="1033.5" width="31" height="33.7" fill="#f67949"/>
<rect x="1365.1" y="1033.5" width="31" height="33.7" fill="#f36c43"/>
<rect x="1395.5" y="1033.5" width="31" height="33.7" fill="#ed6246"/>
<rect x="1426" y="1033.5" width="31" height="33.7" fill="#e65848"/>
<rect x="1456.4" y="1033.5" width="31" height="33.7" fill="#e04e4b"/>
<rect x="1486.8" y="1033.5" width="31" height="33.7" fill="#d9444d"/>
<rect x="1517.2" y="1033.5" width="31" height="33.7" fill="#d0394e"/>
<rect x="1547.6" y="1033.5" width="31" height="33.7" fill="#c52c4b"/>
<rect x="1578" y="1033.5" width="31" height="33.7" fill="#b91f48"/>
<rect x="1608.5" y="1033.5" width="31" height="33.7" fill="#ae1246"/>
<rect x="1638.9" y="1033.5" width="31" height="33.7" fill="#a20543"/>
<rect x="361.3" y="1033.5" width="1308" height="33.7" fill="none" stroke="#262626" stroke-width="1.3"/>
<path d="M642.1 1067.2V1058.2" stroke="#262626" stroke-width="1.3"/>
<text x="642.1" y="1153.5" text-anchor="middle" class="cbl">10</text>
<path d="M956.2 1067.2V1058.2" stroke="#262626" stroke-width="1.3"/>
<text x="956.2" y="1153.5" text-anchor="middle" class="cbl">15</text>
<path d="M1270.4 1067.2V1058.2" stroke="#262626" stroke-width="1.3"/>
<text x="1270.4" y="1153.5" text-anchor="middle" class="cbl">20</text>
<path d="M1584.5 1067.2V1058.2" stroke="#262626" stroke-width="1.3"/>
<text x="1584.5" y="1153.5" text-anchor="middle" class="cbl">25</text>
<rect x="195.2" y="1862.8" width="65.3" height="86.1" fill="#cccccc" stroke="#1e1e1e" stroke-width="1.6" stroke-linejoin="round"/>
<rect x="358.4" y="1864.6" width="65.3" height="84.3" fill="#cccccc" stroke="#1e1e1e" stroke-width="1.6" stroke-linejoin="round"/>
<rect x="440" y="1851.5" width="65.3" height="97.4" fill="#cccccc" stroke="#1e1e1e" stroke-width="1.6" stroke-linejoin="round"/>
<rect x="521.6" y="1769.1" width="65.3" height="179.8" fill="#cccccc" stroke="#1e1e1e" stroke-width="1.6" stroke-linejoin="round"/>
<rect x="603.2" y="1815.9" width="65.3" height="133" fill="#cccccc" stroke="#1e1e1e" stroke-width="1.6" stroke-linejoin="round"/>
<rect x="684.7" y="1851.5" width="65.3" height="97.4" fill="#cccccc" stroke="#1e1e1e" stroke-width="1.6" stroke-linejoin="round"/>
<rect x="766.3" y="1815.9" width="65.3" height="133" fill="#cccccc" stroke="#1e1e1e" stroke-width="1.6" stroke-linejoin="round"/>
<rect x="847.9" y="1855.3" width="65.3" height="93.6" fill="#cccccc" stroke="#1e1e1e" stroke-width="1.6" stroke-linejoin="round"/>
<rect x="929.5" y="1848.7" width="65.3" height="100.2" fill="#cccccc" stroke="#1e1e1e" stroke-width="1.6" stroke-linejoin="round"/>
<rect x="1011.1" y="1856.2" width="65.3" height="92.7" fill="#cccccc" stroke="#1e1e1e" stroke-width="1.6" stroke-linejoin="round"/>
<rect x="1092.6" y="1878.7" width="65.3" height="70.2" fill="#cccccc" stroke="#1e1e1e" stroke-width="1.6" stroke-linejoin="round"/>
<rect x="1174.2" y="1822.5" width="65.3" height="126.4" fill="#cccccc" stroke="#1e1e1e" stroke-width="1.6" stroke-linejoin="round"/>
<rect x="1255.8" y="1830.9" width="65.3" height="118" fill="#cccccc" stroke="#1e1e1e" stroke-width="1.6" stroke-linejoin="round"/>
<rect x="1337.4" y="1843.1" width="65.3" height="105.8" fill="#cccccc" stroke="#1e1e1e" stroke-width="1.6" stroke-linejoin="round"/>
<rect x="1419" y="1855.3" width="65.3" height="93.6" fill="#cccccc" stroke="#1e1e1e" stroke-width="1.6" stroke-linejoin="round"/>
<rect x="1582.1" y="1850" width="65.3" height="98.9" fill="#cccccc" stroke="#1e1e1e" stroke-width="1.6" stroke-linejoin="round"/>
<rect x="1663.7" y="1848.7" width="65.3" height="100.2" fill="#cccccc" stroke="#1e1e1e" stroke-width="1.6" stroke-linejoin="round"/>
<rect x="1745.3" y="1868" width="65.3" height="80.9" fill="#cccccc" stroke="#1e1e1e" stroke-width="1.6" stroke-linejoin="round"/>
<polyline points="227.9,1757.6 309.5,1774.3 391,1748.9 472.6,1734.5 554.2,1686.7 635.8,1610.1 717.4,1639.5 798.9,1625.1 880.5,1613.5 962.1,1610.7 1043.7,1645.8 1125.3,1638.3 1206.9,1617.6 1288.4,1584.1 1370,1571.5 1451.6,1574.9" fill="none" stroke="#92c832" stroke-width="9" stroke-linejoin="miter" stroke-miterlimit="4"/>
<polyline points="227.9,1707.5 309.5,1664.8 391,1645.2 472.6,1639.5 554.2,1549 635.8,1476.4 717.4,1511 798.9,1462 880.5,1425.1 962.1,1456.8 1043.7,1502.3 1125.3,1475.2 1206.9,1448.7 1288.4,1427.4 1370,1450.5 1451.6,1462 1533.2,1365.8 1614.8,1477 1696.3,1459.7 1777.9,1528.3" fill="none" stroke="#cf5a5b" stroke-width="9" stroke-linejoin="miter" stroke-miterlimit="4"/>
<polyline points="227.9,1686.1 309.5,1670 391,1614.7 472.6,1587 554.2,1522.5 635.8,1413.6 717.4,1407.8 798.9,1403.8 880.5,1391.1 962.1,1392.3 1043.7,1474.7 1125.3,1428.6 1206.9,1381.9 1288.4,1335.2 1370,1325.4 1451.6,1342.7 1533.2,1341 1614.8,1388.8 1696.3,1436.6 1777.9,1462.6" fill="none" stroke="#1e1e1e" stroke-width="9" stroke-linejoin="miter" stroke-miterlimit="4"/>
<path d="M146.3 1199.8H1859.5" stroke="#262626" stroke-width="1.3" fill="none"/>
<path d="M146.3 1199.8V1948.9H1859.5" stroke="#262626" stroke-width="1.3" fill="none"/>
<path d="M1859.5 1199.8V1948.9" stroke="#4d4d4d" stroke-width="1.3" fill="none"/>
<path d="M309.5 1948.9v-16M309.5 1199.8v16M472.6 1948.9v-16M472.6 1199.8v16M635.8 1948.9v-16M635.8 1199.8v16M798.9 1948.9v-16M798.9 1199.8v16M962.1 1948.9v-16M962.1 1199.8v16M1125.3 1948.9v-16M1125.3 1199.8v16M1288.4 1948.9v-16M1288.4 1199.8v16M1451.6 1948.9v-16M1451.6 1199.8v16M1614.8 1948.9v-16M1614.8 1199.8v16M1777.9 1948.9v-16M1777.9 1199.8v16M146.3 1833.7h16M146.3 1718.4h16M146.3 1603.2h16M146.3 1487.9h16M146.3 1372.7h16M146.3 1257.4h16" stroke="#262626" stroke-width="1.3"/>
<path d="M1859.5 1761.6h-15M1859.5 1574.3h-15M1859.5 1387.1h-15" stroke="#4d4d4d" stroke-width="1.3"/>
<text x="145" y="2015.5" text-anchor="middle" class="tl">2002</text>
<text x="308.2" y="2015.5" text-anchor="middle" class="tl">2004</text>
<text x="471.3" y="2015.5" text-anchor="middle" class="tl">2006</text>
<text x="634.5" y="2015.5" text-anchor="middle" class="tl">2008</text>
<text x="797.6" y="2015.5" text-anchor="middle" class="tl">2010</text>
<text x="960.8" y="2015.5" text-anchor="middle" class="tl">2012</text>
<text x="1124" y="2015.5" text-anchor="middle" class="tl">2014</text>
<text x="1287.1" y="2015.5" text-anchor="middle" class="tl">2016</text>
<text x="1450.3" y="2015.5" text-anchor="middle" class="tl">2018</text>
<text x="1613.5" y="2015.5" text-anchor="middle" class="tl">2020</text>
<text x="1776.6" y="2015.5" text-anchor="middle" class="tl">2022</text>
<text x="128.9" y="1967.9" text-anchor="end" class="tk">12</text>
<text x="128.9" y="1852.7" text-anchor="end" class="tk">14</text>
<text x="128.9" y="1737.4" text-anchor="end" class="tk">16</text>
<text x="128.9" y="1622.2" text-anchor="end" class="tk">18</text>
<text x="128.9" y="1506.9" text-anchor="end" class="tk">20</text>
<text x="128.9" y="1391.7" text-anchor="end" class="tk">22</text>
<text x="128.9" y="1276.4" text-anchor="end" class="tk">24</text>
<text x="1875.3" y="1968.2" class="tr">0</text>
<text x="1875.3" y="1780.9" class="tr">100</text>
<text x="1875.3" y="1593.6" class="tr">200</text>
<text x="1875.3" y="1406.4" class="tr">300</text>
<text x="1875.3" y="1219.1" class="tr">400</text>
<text transform="translate(53.8 1574.2) rotate(-90)" text-anchor="middle" class="yl">Freshwater Content(m)</text>
<text transform="translate(2017.5 1573.9) rotate(-90)" text-anchor="middle" class="yr">Casts</text>
<path d="M172.8 1253.1H246.3" stroke="#cf5a5b" stroke-width="10"/>
<text x="251.5" y="1273.1" class="lg">Salinity product</text>
<path d="M172.8 1316.4H246.3" stroke="#1e1e1e" stroke-width="10"/>
<text x="251.5" y="1336.4" class="lg">BGEP(LSSL)</text>
<path d="M172.8 1379.8H246.3" stroke="#92c832" stroke-width="10"/>
<text x="251.5" y="1399.8" class="lg">ORAS5</text>
<text transform="translate(20.5 75.3) scale(0.95 1)" class="pl">A</text>
<text transform="translate(24.6 1177.3) scale(0.813 1)" class="pl">B</text>
</svg>
</body></html>
